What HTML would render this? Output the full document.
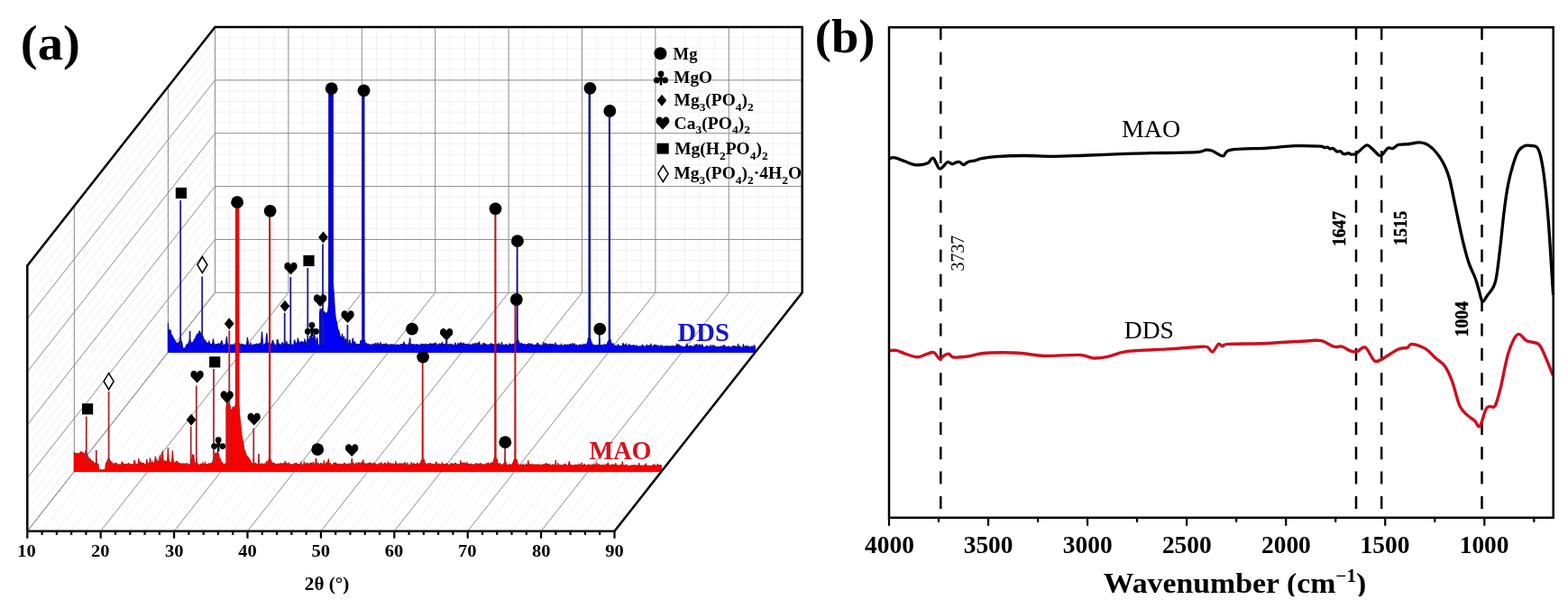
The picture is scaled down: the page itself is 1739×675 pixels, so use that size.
<!DOCTYPE html>
<html><head><meta charset="utf-8"><title>XRD and FTIR</title>
<style>
html,body{margin:0;padding:0;background:#fff;}
svg{display:block;}
.b{font-family:"Liberation Serif","Times New Roman",serif;font-weight:bold;}
.r{font-family:"Liberation Serif","Times New Roman",serif;font-weight:normal;}
</style></head>
<body>
<svg width="1739" height="675" viewBox="0 0 1739 675">
<rect width="1739" height="675" fill="#fff"/>
<g shape-rendering="auto"><line x1="30.3" y1="576.93" x2="238.5" y2="312.53" stroke="#f0f0f0" stroke-width="1" /><line x1="30.3" y1="565.16" x2="238.5" y2="300.76" stroke="#f0f0f0" stroke-width="1" /><line x1="30.3" y1="553.38" x2="238.5" y2="288.98" stroke="#f0f0f0" stroke-width="1" /><line x1="30.3" y1="541.61" x2="238.5" y2="277.21" stroke="#f0f0f0" stroke-width="1" /><line x1="30.3" y1="518.07" x2="238.5" y2="253.67" stroke="#f0f0f0" stroke-width="1" /><line x1="30.3" y1="506.3" x2="238.5" y2="241.9" stroke="#f0f0f0" stroke-width="1" /><line x1="30.3" y1="494.52" x2="238.5" y2="230.12" stroke="#f0f0f0" stroke-width="1" /><line x1="30.3" y1="482.75" x2="238.5" y2="218.35" stroke="#f0f0f0" stroke-width="1" /><line x1="30.3" y1="459.21" x2="238.5" y2="194.81" stroke="#f0f0f0" stroke-width="1" /><line x1="30.3" y1="447.44" x2="238.5" y2="183.04" stroke="#f0f0f0" stroke-width="1" /><line x1="30.3" y1="435.66" x2="238.5" y2="171.26" stroke="#f0f0f0" stroke-width="1" /><line x1="30.3" y1="423.89" x2="238.5" y2="159.49" stroke="#f0f0f0" stroke-width="1" /><line x1="30.3" y1="400.35" x2="238.5" y2="135.95" stroke="#f0f0f0" stroke-width="1" /><line x1="30.3" y1="388.58" x2="238.5" y2="124.18" stroke="#f0f0f0" stroke-width="1" /><line x1="30.3" y1="376.8" x2="238.5" y2="112.4" stroke="#f0f0f0" stroke-width="1" /><line x1="30.3" y1="365.03" x2="238.5" y2="100.63" stroke="#f0f0f0" stroke-width="1" /><line x1="30.3" y1="341.49" x2="238.5" y2="77.09" stroke="#f0f0f0" stroke-width="1" /><line x1="30.3" y1="329.72" x2="238.5" y2="65.32" stroke="#f0f0f0" stroke-width="1" /><line x1="30.3" y1="317.94" x2="238.5" y2="53.54" stroke="#f0f0f0" stroke-width="1" /><line x1="30.3" y1="306.17" x2="238.5" y2="41.77" stroke="#f0f0f0" stroke-width="1" /><line x1="238.5" y1="312.53" x2="889.7" y2="312.53" stroke="#f0f0f0" stroke-width="1" /><line x1="238.5" y1="300.76" x2="889.7" y2="300.76" stroke="#f0f0f0" stroke-width="1" /><line x1="238.5" y1="288.98" x2="889.7" y2="288.98" stroke="#f0f0f0" stroke-width="1" /><line x1="238.5" y1="277.21" x2="889.7" y2="277.21" stroke="#f0f0f0" stroke-width="1" /><line x1="238.5" y1="253.67" x2="889.7" y2="253.67" stroke="#f0f0f0" stroke-width="1" /><line x1="238.5" y1="241.9" x2="889.7" y2="241.9" stroke="#f0f0f0" stroke-width="1" /><line x1="238.5" y1="230.12" x2="889.7" y2="230.12" stroke="#f0f0f0" stroke-width="1" /><line x1="238.5" y1="218.35" x2="889.7" y2="218.35" stroke="#f0f0f0" stroke-width="1" /><line x1="238.5" y1="194.81" x2="889.7" y2="194.81" stroke="#f0f0f0" stroke-width="1" /><line x1="238.5" y1="183.04" x2="889.7" y2="183.04" stroke="#f0f0f0" stroke-width="1" /><line x1="238.5" y1="171.26" x2="889.7" y2="171.26" stroke="#f0f0f0" stroke-width="1" /><line x1="238.5" y1="159.49" x2="889.7" y2="159.49" stroke="#f0f0f0" stroke-width="1" /><line x1="238.5" y1="135.95" x2="889.7" y2="135.95" stroke="#f0f0f0" stroke-width="1" /><line x1="238.5" y1="124.18" x2="889.7" y2="124.18" stroke="#f0f0f0" stroke-width="1" /><line x1="238.5" y1="112.4" x2="889.7" y2="112.4" stroke="#f0f0f0" stroke-width="1" /><line x1="238.5" y1="100.63" x2="889.7" y2="100.63" stroke="#f0f0f0" stroke-width="1" /><line x1="238.5" y1="77.09" x2="889.7" y2="77.09" stroke="#f0f0f0" stroke-width="1" /><line x1="238.5" y1="65.32" x2="889.7" y2="65.32" stroke="#f0f0f0" stroke-width="1" /><line x1="238.5" y1="53.54" x2="889.7" y2="53.54" stroke="#f0f0f0" stroke-width="1" /><line x1="238.5" y1="41.77" x2="889.7" y2="41.77" stroke="#f0f0f0" stroke-width="1" /><line x1="254.78" y1="324.3" x2="254.78" y2="30" stroke="#f0f0f0" stroke-width="1" /><line x1="46.58" y1="588.7" x2="254.78" y2="324.3" stroke="#f0f0f0" stroke-width="1" /><line x1="271.06" y1="324.3" x2="271.06" y2="30" stroke="#f0f0f0" stroke-width="1" /><line x1="62.86" y1="588.7" x2="271.06" y2="324.3" stroke="#f0f0f0" stroke-width="1" /><line x1="287.34" y1="324.3" x2="287.34" y2="30" stroke="#f0f0f0" stroke-width="1" /><line x1="79.14" y1="588.7" x2="287.34" y2="324.3" stroke="#f0f0f0" stroke-width="1" /><line x1="303.62" y1="324.3" x2="303.62" y2="30" stroke="#f0f0f0" stroke-width="1" /><line x1="95.42" y1="588.7" x2="303.62" y2="324.3" stroke="#f0f0f0" stroke-width="1" /><line x1="336.18" y1="324.3" x2="336.18" y2="30" stroke="#f0f0f0" stroke-width="1" /><line x1="127.98" y1="588.7" x2="336.18" y2="324.3" stroke="#f0f0f0" stroke-width="1" /><line x1="352.46" y1="324.3" x2="352.46" y2="30" stroke="#f0f0f0" stroke-width="1" /><line x1="144.26" y1="588.7" x2="352.46" y2="324.3" stroke="#f0f0f0" stroke-width="1" /><line x1="368.74" y1="324.3" x2="368.74" y2="30" stroke="#f0f0f0" stroke-width="1" /><line x1="160.54" y1="588.7" x2="368.74" y2="324.3" stroke="#f0f0f0" stroke-width="1" /><line x1="385.02" y1="324.3" x2="385.02" y2="30" stroke="#f0f0f0" stroke-width="1" /><line x1="176.82" y1="588.7" x2="385.02" y2="324.3" stroke="#f0f0f0" stroke-width="1" /><line x1="417.58" y1="324.3" x2="417.58" y2="30" stroke="#f0f0f0" stroke-width="1" /><line x1="209.38" y1="588.7" x2="417.58" y2="324.3" stroke="#f0f0f0" stroke-width="1" /><line x1="433.86" y1="324.3" x2="433.86" y2="30" stroke="#f0f0f0" stroke-width="1" /><line x1="225.66" y1="588.7" x2="433.86" y2="324.3" stroke="#f0f0f0" stroke-width="1" /><line x1="450.14" y1="324.3" x2="450.14" y2="30" stroke="#f0f0f0" stroke-width="1" /><line x1="241.94" y1="588.7" x2="450.14" y2="324.3" stroke="#f0f0f0" stroke-width="1" /><line x1="466.42" y1="324.3" x2="466.42" y2="30" stroke="#f0f0f0" stroke-width="1" /><line x1="258.22" y1="588.7" x2="466.42" y2="324.3" stroke="#f0f0f0" stroke-width="1" /><line x1="498.98" y1="324.3" x2="498.98" y2="30" stroke="#f0f0f0" stroke-width="1" /><line x1="290.78" y1="588.7" x2="498.98" y2="324.3" stroke="#f0f0f0" stroke-width="1" /><line x1="515.26" y1="324.3" x2="515.26" y2="30" stroke="#f0f0f0" stroke-width="1" /><line x1="307.06" y1="588.7" x2="515.26" y2="324.3" stroke="#f0f0f0" stroke-width="1" /><line x1="531.54" y1="324.3" x2="531.54" y2="30" stroke="#f0f0f0" stroke-width="1" /><line x1="323.34" y1="588.7" x2="531.54" y2="324.3" stroke="#f0f0f0" stroke-width="1" /><line x1="547.82" y1="324.3" x2="547.82" y2="30" stroke="#f0f0f0" stroke-width="1" /><line x1="339.62" y1="588.7" x2="547.82" y2="324.3" stroke="#f0f0f0" stroke-width="1" /><line x1="580.38" y1="324.3" x2="580.38" y2="30" stroke="#f0f0f0" stroke-width="1" /><line x1="372.18" y1="588.7" x2="580.38" y2="324.3" stroke="#f0f0f0" stroke-width="1" /><line x1="596.66" y1="324.3" x2="596.66" y2="30" stroke="#f0f0f0" stroke-width="1" /><line x1="388.46" y1="588.7" x2="596.66" y2="324.3" stroke="#f0f0f0" stroke-width="1" /><line x1="612.94" y1="324.3" x2="612.94" y2="30" stroke="#f0f0f0" stroke-width="1" /><line x1="404.74" y1="588.7" x2="612.94" y2="324.3" stroke="#f0f0f0" stroke-width="1" /><line x1="629.22" y1="324.3" x2="629.22" y2="30" stroke="#f0f0f0" stroke-width="1" /><line x1="421.02" y1="588.7" x2="629.22" y2="324.3" stroke="#f0f0f0" stroke-width="1" /><line x1="661.78" y1="324.3" x2="661.78" y2="30" stroke="#f0f0f0" stroke-width="1" /><line x1="453.58" y1="588.7" x2="661.78" y2="324.3" stroke="#f0f0f0" stroke-width="1" /><line x1="678.06" y1="324.3" x2="678.06" y2="30" stroke="#f0f0f0" stroke-width="1" /><line x1="469.86" y1="588.7" x2="678.06" y2="324.3" stroke="#f0f0f0" stroke-width="1" /><line x1="694.34" y1="324.3" x2="694.34" y2="30" stroke="#f0f0f0" stroke-width="1" /><line x1="486.14" y1="588.7" x2="694.34" y2="324.3" stroke="#f0f0f0" stroke-width="1" /><line x1="710.62" y1="324.3" x2="710.62" y2="30" stroke="#f0f0f0" stroke-width="1" /><line x1="502.42" y1="588.7" x2="710.62" y2="324.3" stroke="#f0f0f0" stroke-width="1" /><line x1="743.18" y1="324.3" x2="743.18" y2="30" stroke="#f0f0f0" stroke-width="1" /><line x1="534.98" y1="588.7" x2="743.18" y2="324.3" stroke="#f0f0f0" stroke-width="1" /><line x1="759.46" y1="324.3" x2="759.46" y2="30" stroke="#f0f0f0" stroke-width="1" /><line x1="551.26" y1="588.7" x2="759.46" y2="324.3" stroke="#f0f0f0" stroke-width="1" /><line x1="775.74" y1="324.3" x2="775.74" y2="30" stroke="#f0f0f0" stroke-width="1" /><line x1="567.54" y1="588.7" x2="775.74" y2="324.3" stroke="#f0f0f0" stroke-width="1" /><line x1="792.02" y1="324.3" x2="792.02" y2="30" stroke="#f0f0f0" stroke-width="1" /><line x1="583.82" y1="588.7" x2="792.02" y2="324.3" stroke="#f0f0f0" stroke-width="1" /><line x1="824.58" y1="324.3" x2="824.58" y2="30" stroke="#f0f0f0" stroke-width="1" /><line x1="616.38" y1="588.7" x2="824.58" y2="324.3" stroke="#f0f0f0" stroke-width="1" /><line x1="840.86" y1="324.3" x2="840.86" y2="30" stroke="#f0f0f0" stroke-width="1" /><line x1="632.66" y1="588.7" x2="840.86" y2="324.3" stroke="#f0f0f0" stroke-width="1" /><line x1="857.14" y1="324.3" x2="857.14" y2="30" stroke="#f0f0f0" stroke-width="1" /><line x1="648.94" y1="588.7" x2="857.14" y2="324.3" stroke="#f0f0f0" stroke-width="1" /><line x1="873.42" y1="324.3" x2="873.42" y2="30" stroke="#f0f0f0" stroke-width="1" /><line x1="665.22" y1="588.7" x2="873.42" y2="324.3" stroke="#f0f0f0" stroke-width="1" /></g>
<g><line x1="30.3" y1="588.7" x2="238.5" y2="324.3" stroke="#8c8c8c" stroke-width="1" /><line x1="238.5" y1="324.3" x2="889.7" y2="324.3" stroke="#8c8c8c" stroke-width="1" /><line x1="30.3" y1="529.84" x2="238.5" y2="265.44" stroke="#8c8c8c" stroke-width="1" /><line x1="238.5" y1="265.44" x2="889.7" y2="265.44" stroke="#8c8c8c" stroke-width="1" /><line x1="30.3" y1="470.98" x2="238.5" y2="206.58" stroke="#8c8c8c" stroke-width="1" /><line x1="238.5" y1="206.58" x2="889.7" y2="206.58" stroke="#8c8c8c" stroke-width="1" /><line x1="30.3" y1="412.12" x2="238.5" y2="147.72" stroke="#8c8c8c" stroke-width="1" /><line x1="238.5" y1="147.72" x2="889.7" y2="147.72" stroke="#8c8c8c" stroke-width="1" /><line x1="30.3" y1="353.26" x2="238.5" y2="88.86" stroke="#8c8c8c" stroke-width="1" /><line x1="238.5" y1="88.86" x2="889.7" y2="88.86" stroke="#8c8c8c" stroke-width="1" /><line x1="238.5" y1="324.3" x2="238.5" y2="30" stroke="#8c8c8c" stroke-width="1" /><line x1="30.3" y1="588.7" x2="238.5" y2="324.3" stroke="#8c8c8c" stroke-width="1" /><line x1="319.9" y1="324.3" x2="319.9" y2="30" stroke="#8c8c8c" stroke-width="1" /><line x1="111.7" y1="588.7" x2="319.9" y2="324.3" stroke="#8c8c8c" stroke-width="1" /><line x1="401.3" y1="324.3" x2="401.3" y2="30" stroke="#8c8c8c" stroke-width="1" /><line x1="193.1" y1="588.7" x2="401.3" y2="324.3" stroke="#8c8c8c" stroke-width="1" /><line x1="482.7" y1="324.3" x2="482.7" y2="30" stroke="#8c8c8c" stroke-width="1" /><line x1="274.5" y1="588.7" x2="482.7" y2="324.3" stroke="#8c8c8c" stroke-width="1" /><line x1="564.1" y1="324.3" x2="564.1" y2="30" stroke="#8c8c8c" stroke-width="1" /><line x1="355.9" y1="588.7" x2="564.1" y2="324.3" stroke="#8c8c8c" stroke-width="1" /><line x1="645.5" y1="324.3" x2="645.5" y2="30" stroke="#8c8c8c" stroke-width="1" /><line x1="437.3" y1="588.7" x2="645.5" y2="324.3" stroke="#8c8c8c" stroke-width="1" /><line x1="726.9" y1="324.3" x2="726.9" y2="30" stroke="#8c8c8c" stroke-width="1" /><line x1="518.7" y1="588.7" x2="726.9" y2="324.3" stroke="#8c8c8c" stroke-width="1" /><line x1="808.3" y1="324.3" x2="808.3" y2="30" stroke="#8c8c8c" stroke-width="1" /><line x1="600.1" y1="588.7" x2="808.3" y2="324.3" stroke="#8c8c8c" stroke-width="1" /><line x1="82.35" y1="522.6" x2="82.35" y2="228.3" stroke="#8c8c8c" stroke-width="1" /><line x1="186.45" y1="390.4" x2="186.45" y2="96.1" stroke="#8c8c8c" stroke-width="1" /></g>
<path d="M186.45,390.4 L186.45,358.47 L186.95,367.34 L187.45,366.38 L187.95,368.33 L188.45,365.86 L188.95,365.7 L189.45,368.77 L189.95,370.84 L190.45,373.25 L190.95,371.94 L191.45,372.6 L191.95,376.59 L192.45,374.67 L192.95,377.02 L193.45,376.61 L193.95,377.2 L194.45,379.09 L194.95,379.77 L195.45,380.36 L195.95,380.82 L196.45,380.84 L196.95,380.31 L197.45,381.93 L197.95,381.32 L198.45,378.82 L198.95,378.84 L199.45,377.82 L199.95,375.92 L200.45,375.79 L200.95,378.26 L201.45,378.85 L201.95,380.86 L202.45,385.41 L202.95,385.95 L203.45,385.89 L203.95,386.12 L204.45,386.07 L204.95,385.75 L205.45,386.3 L205.95,385.9 L206.45,382.78 L206.95,382.89 L207.45,381.84 L207.95,381.53 L208.45,381.98 L208.95,381.21 L209.45,379.03 L209.95,379.68 L210.45,375.39 L210.95,378.25 L211.45,378.3 L211.95,379.91 L212.45,380.76 L212.95,381.05 L213.45,380.06 L213.95,379.07 L214.45,379.17 L214.95,377.99 L215.45,376.1 L215.95,376.94 L216.45,376.35 L216.95,374.76 L217.45,372.32 L217.95,372.98 L218.45,370.55 L218.95,370.37 L219.45,370.01 L219.95,370.79 L220.45,370.43 L220.95,367.17 L221.45,367.05 L221.95,368.59 L222.45,369.66 L222.95,370.04 L223.45,370.86 L223.95,370.86 L224.45,372.15 L224.95,372.89 L225.45,374.4 L225.95,376.62 L226.45,376.54 L226.95,376.93 L227.45,376.94 L227.95,378.9 L228.45,378.9 L228.95,379.28 L229.45,381.3 L229.95,380.35 L230.45,382.04 L230.95,380.73 L231.45,380.38 L231.95,377.88 L232.45,382.32 L232.95,382.23 L233.45,381.21 L233.95,382.64 L234.45,381.85 L234.95,381.46 L235.45,381.91 L235.95,379.92 L236.45,375.95 L236.95,378.85 L237.45,382.14 L237.95,383.05 L238.45,382.93 L238.95,381.66 L239.45,382.62 L239.95,381.75 L240.45,382.97 L240.95,381.47 L241.45,381.6 L241.95,382.56 L242.45,380.67 L242.95,383.12 L243.45,382.65 L243.95,381.46 L244.45,381.6 L244.95,379.79 L245.45,379.89 L245.95,377.55 L246.45,379.51 L246.95,381.68 L247.45,382.85 L247.95,382.78 L248.45,382.97 L248.95,381.89 L249.45,383.17 L249.95,381.95 L250.45,380.98 L250.95,376.89 L251.45,373.38 L251.95,379.74 L252.45,382.1 L252.95,382.49 L253.45,382.5 L253.95,382.55 L254.45,381.61 L254.95,382.23 L255.45,381.98 L255.95,383.07 L256.45,382.36 L256.95,382.32 L257.45,382.1 L257.95,381.84 L258.45,382.54 L258.95,383.09 L259.45,382.9 L259.95,382.79 L260.45,380.89 L260.95,383.11 L261.45,382.93 L261.95,381.9 L262.45,382.51 L262.95,382.43 L263.45,382.33 L263.95,380.79 L264.45,382.29 L264.95,381 L265.45,380.64 L265.95,382.22 L266.45,382.74 L266.95,382.65 L267.45,381.2 L267.95,382.55 L268.45,382.96 L268.95,382.99 L269.45,381.4 L269.95,383 L270.45,382.3 L270.95,383.05 L271.45,382.64 L271.95,382.46 L272.45,382.22 L272.95,382.81 L273.45,382.27 L273.95,379.11 L274.45,374.31 L274.95,377.91 L275.45,381.7 L275.95,382.69 L276.45,383.18 L276.95,382.5 L277.45,381.61 L277.95,380.14 L278.45,382.28 L278.95,382.32 L279.45,382.96 L279.95,382.52 L280.45,382.85 L280.95,382.51 L281.45,381.92 L281.95,382.19 L282.45,381.63 L282.95,383.15 L283.45,381.8 L283.95,383.19 L284.45,381.33 L284.95,381.05 L285.45,381.37 L285.95,382.63 L286.45,382.55 L286.95,381.46 L287.45,382.84 L287.95,380.38 L288.45,382.64 L288.95,382.85 L289.45,381.08 L289.95,375.95 L290.45,367.99 L290.95,374.01 L291.45,380.84 L291.95,381.99 L292.45,382.25 L292.95,382.59 L293.45,381.89 L293.95,380.93 L294.45,381.02 L294.95,379.8 L295.45,372.68 L295.95,369.69 L296.45,377.93 L296.95,382.54 L297.45,383.08 L297.95,380.42 L298.45,382.97 L298.95,381.96 L299.45,382.36 L299.95,381.43 L300.45,381.38 L300.95,382.05 L301.45,381.82 L301.95,378.41 L302.45,377.31 L302.95,378.31 L303.45,382.25 L303.95,380.87 L304.45,383.02 L304.95,382.67 L305.45,382.69 L305.95,382.84 L306.45,382.44 L306.95,381 L307.45,376.33 L307.95,376.41 L308.45,380.52 L308.95,382.51 L309.45,382.01 L309.95,381.13 L310.45,382.7 L310.95,382.36 L311.45,382.07 L311.95,382.34 L312.45,381.94 L312.95,379.6 L313.45,382.31 L313.95,380.77 L314.45,382.23 L314.95,382.45 L315.45,382.46 L315.95,381.68 L316.45,382.75 L316.95,382.51 L317.45,381.33 L317.95,378.7 L318.45,382.56 L318.95,383.13 L319.45,381.71 L319.95,381.67 L320.45,382.68 L320.95,381.68 L321.45,382.34 L321.95,382.51 L322.45,380.31 L322.95,382.11 L323.45,382.58 L323.95,382.11 L324.45,382.6 L324.95,382.72 L325.45,381.97 L325.95,381.46 L326.45,377.03 L326.95,377.15 L327.45,380.01 L327.95,381.14 L328.45,380.84 L328.95,381.2 L329.45,379.4 L329.95,378.34 L330.45,374.97 L330.95,377.26 L331.45,379.79 L331.95,380.57 L332.45,379.96 L332.95,380.81 L333.45,378.8 L333.95,379.23 L334.45,380.27 L334.95,378.52 L335.45,380.14 L335.95,379.98 L336.45,380.41 L336.95,379.09 L337.45,380.36 L337.95,375.97 L338.45,378.91 L338.95,380.29 L339.45,380.36 L339.95,380.35 L340.45,377.92 L340.95,375.85 L341.45,378.43 L341.95,378.36 L342.45,376.32 L342.95,376.36 L343.45,375.88 L343.95,372.54 L344.45,373.78 L344.95,373.49 L345.45,373.67 L345.95,373.8 L346.45,375.13 L346.95,375.7 L347.45,374.66 L347.95,372.84 L348.45,364.72 L348.95,371.88 L349.45,376.13 L349.95,381.33 L350.45,380.34 L350.95,377.71 L351.45,374.13 L351.95,375.44 L352.45,380.94 L352.95,381.95 L353.45,382.88 L353.95,383.1 L354.45,382.76 L354.95,381.62 L355.45,382.54 L355.95,382.77 L356.45,381.66 L356.95,382.96 L357.45,383.1 L357.95,382.25 L358.45,379.73 L358.95,382.44 L359.45,379.85 L359.95,381.98 L360.45,382.52 L360.95,382.94 L361.45,381.94 L361.95,382.67 L362.45,382.75 L362.95,380.23 L363.45,382.92 L363.95,382.56 L364.45,381.27 L364.95,380.99 L365.45,381.49 L365.95,381.81 L366.45,377.38 L366.95,381.14 L367.45,383.17 L367.95,382.04 L368.45,383.05 L368.95,382.94 L369.45,381.4 L369.95,382.66 L370.45,382.67 L370.95,382.78 L371.45,382.65 L371.95,383.06 L372.45,382.82 L372.95,383.18 L373.45,382.29 L373.95,382.6 L374.45,382.54 L374.95,379.26 L375.45,381.11 L375.95,383.08 L376.45,382.01 L376.95,382.73 L377.45,382.52 L377.95,382.27 L378.45,382.24 L378.95,377.02 L379.45,370.13 L379.95,373.96 L380.45,378.81 L380.95,374.96 L381.45,373.22 L381.95,378 L382.45,380.04 L382.95,379.04 L383.45,375.33 L383.95,378.12 L384.45,381.97 L384.95,379.64 L385.45,382.77 L385.95,382.68 L386.45,382.68 L386.95,381.22 L387.45,377.82 L387.95,376.9 L388.45,379.97 L388.95,382.91 L389.45,381.14 L389.95,382.14 L390.45,381.3 L390.95,376.22 L391.45,375.11 L391.95,380.16 L392.45,381.23 L392.95,380.38 L393.45,378.7 L393.95,380.03 L394.45,382.39 L394.95,382.04 L395.45,383.07 L395.95,381.42 L396.45,381.71 L396.95,381.49 L397.45,382.98 L397.95,381.7 L398.45,381.54 L398.95,382.73 L399.45,382.44 L399.95,377.53 L400.45,380.25 L400.95,377.6 L401.45,376.78 L401.95,375.6 L402.45,375.76 L402.95,376.17 L403.45,376.71 L403.95,376.22 L404.45,377.41 L404.95,379.81 L405.45,380.51 L405.95,381.79 L406.45,380.79 L406.95,382.51 L407.45,381.96 L407.95,381.09 L408.45,382.66 L408.95,383.02 L409.45,381.94 L409.95,381.58 L410.45,382.65 L410.95,382.31 L411.45,382.66 L411.95,382.76 L412.45,382.83 L412.95,381.9 L413.45,381.17 L413.95,382.88 L414.45,382.97 L414.95,382.51 L415.45,380.93 L415.95,383.18 L416.45,381.93 L416.95,380.33 L417.45,382.34 L417.95,383.03 L418.45,382.97 L418.95,380.18 L419.45,382.34 L419.95,381.24 L420.45,382.33 L420.95,382.38 L421.45,382.33 L421.95,379.48 L422.45,382.08 L422.95,381.57 L423.45,382.93 L423.95,383.12 L424.45,382.25 L424.95,381.35 L425.45,383.09 L425.95,381.93 L426.45,381.71 L426.95,382.01 L427.45,382.7 L427.95,380.7 L428.45,383.07 L428.95,382.03 L429.45,382.82 L429.95,381.79 L430.45,381.94 L430.95,382.31 L431.45,382.77 L431.95,382.49 L432.45,382.81 L432.95,381.77 L433.45,382.94 L433.95,382.73 L434.45,381.7 L434.95,381.81 L435.45,382.32 L435.95,382.81 L436.45,382.91 L436.95,381.96 L437.45,381.98 L437.95,382.21 L438.45,382.78 L438.95,382.84 L439.45,382.31 L439.95,382.31 L440.45,382.26 L440.95,382.99 L441.45,381.95 L441.95,382.86 L442.45,383.06 L442.95,382.63 L443.45,383.16 L443.95,382.25 L444.45,381.7 L444.95,381.49 L445.45,382.26 L445.95,383 L446.45,381.55 L446.95,382.48 L447.45,381.67 L447.95,378.84 L448.45,382.2 L448.95,381.33 L449.45,382.26 L449.95,382.64 L450.45,382.08 L450.95,381.85 L451.45,382.98 L451.95,383.17 L452.45,382.61 L452.95,382.06 L453.45,380.47 L453.95,382.14 L454.45,382.6 L454.95,382.79 L455.45,382.51 L455.95,381.91 L456.45,381.57 L456.95,382.53 L457.45,383.02 L457.95,381.58 L458.45,382.56 L458.95,381.98 L459.45,381.88 L459.95,381.91 L460.45,383.15 L460.95,382.95 L461.45,381.9 L461.95,382.75 L462.45,382.79 L462.95,381.61 L463.45,382.76 L463.95,382.47 L464.45,383.19 L464.95,382.48 L465.45,382.62 L465.95,383.01 L466.45,382.53 L466.95,381.28 L467.45,382.17 L467.95,383 L468.45,382.09 L468.95,381.41 L469.45,381.75 L469.95,382.1 L470.45,382.99 L470.95,381.97 L471.45,382.92 L471.95,381.16 L472.45,383.02 L472.95,381.67 L473.45,382.85 L473.95,381.86 L474.45,382.89 L474.95,382.02 L475.45,382.28 L475.95,381.82 L476.45,381.06 L476.95,382.51 L477.45,380.77 L477.95,382.26 L478.45,381.34 L478.95,382.25 L479.45,382.02 L479.95,381.04 L480.45,382.9 L480.95,381.21 L481.45,382.62 L481.95,381.05 L482.45,380.04 L482.95,382.72 L483.45,380.45 L483.95,382.49 L484.45,382.2 L484.95,383.07 L485.45,382.81 L485.95,382.46 L486.45,381.23 L486.95,381.72 L487.45,381.08 L487.95,382.79 L488.45,381.49 L488.95,381.26 L489.45,380.86 L489.95,382.06 L490.45,379.46 L490.95,383.13 L491.45,383 L491.95,381.4 L492.45,382.93 L492.95,382.81 L493.45,381.38 L493.95,381.65 L494.45,382.13 L494.95,381.52 L495.45,381.31 L495.95,381.85 L496.45,382.09 L496.95,383.02 L497.45,381.91 L497.95,382.98 L498.45,381.67 L498.95,381.24 L499.45,381.98 L499.95,383.05 L500.45,382.97 L500.95,381.75 L501.45,381.5 L501.95,383.16 L502.45,382.95 L502.95,382.56 L503.45,382.63 L503.95,382.64 L504.45,382.91 L504.95,379.9 L505.45,382.64 L505.95,383.08 L506.45,382.41 L506.95,383.17 L507.45,382.76 L507.95,380.48 L508.45,382.61 L508.95,382.83 L509.45,381.44 L509.95,380.71 L510.45,381.11 L510.95,379.71 L511.45,383.06 L511.95,380.27 L512.45,382.73 L512.95,381.75 L513.45,382.93 L513.95,380.24 L514.45,380.42 L514.95,381.98 L515.45,382.98 L515.95,381.64 L516.45,381.86 L516.95,381.35 L517.45,381.84 L517.95,381.46 L518.45,382.28 L518.95,381.87 L519.45,382.19 L519.95,381.89 L520.45,382.17 L520.95,381.77 L521.45,382.23 L521.95,383.09 L522.45,382.68 L522.95,382.13 L523.45,382.91 L523.95,380.93 L524.45,382.87 L524.95,382.72 L525.45,382.39 L525.95,381.7 L526.45,380.55 L526.95,382.83 L527.45,380.78 L527.95,381.54 L528.45,381.2 L528.95,382.97 L529.45,380.25 L529.95,380.4 L530.45,382.37 L530.95,382.83 L531.45,378.85 L531.95,380.49 L532.45,383.03 L532.95,382.78 L533.45,383.13 L533.95,382.19 L534.45,382.14 L534.95,382.76 L535.45,383.07 L535.95,380.3 L536.45,382.69 L536.95,382.98 L537.45,380.74 L537.95,383.19 L538.45,381.88 L538.95,382.39 L539.45,381.23 L539.95,382.6 L540.45,382.81 L540.95,383.05 L541.45,382.28 L541.95,382.54 L542.45,382.49 L542.95,381.8 L543.45,382.33 L543.95,382.51 L544.45,380.75 L544.95,382.54 L545.45,381.41 L545.95,381.62 L546.45,383.02 L546.95,381.5 L547.45,382.66 L547.95,382.39 L548.45,382.04 L548.95,383.11 L549.45,381.75 L549.95,381.53 L550.45,381.93 L550.95,381.48 L551.45,382.99 L551.95,382.52 L552.45,382.82 L552.95,380.95 L553.45,382.02 L553.95,381.05 L554.45,383.1 L554.95,383.03 L555.45,382.99 L555.95,382.58 L556.45,379.46 L556.95,382.17 L557.45,382.07 L557.95,382.76 L558.45,382.48 L558.95,382.33 L559.45,382.31 L559.95,382.74 L560.45,382.39 L560.95,382.07 L561.45,381.78 L561.95,382.04 L562.45,383.05 L562.95,382.92 L563.45,382.81 L563.95,382.89 L564.45,382.94 L564.95,380.99 L565.45,381.27 L565.95,382.25 L566.45,382.52 L566.95,381.59 L567.45,382.93 L567.95,383.15 L568.45,382.49 L568.95,381.3 L569.45,382.91 L569.95,381.57 L570.45,381.67 L570.95,380.6 L571.45,380.17 L571.95,379.49 L572.45,378.52 L572.95,378.13 L573.45,376.78 L573.95,377 L574.45,377.22 L574.95,377.27 L575.45,379.35 L575.95,380.54 L576.45,380.79 L576.95,382.51 L577.45,382.28 L577.95,380.78 L578.45,380.22 L578.95,382.21 L579.45,381.72 L579.95,381.74 L580.45,381.83 L580.95,381.86 L581.45,381.47 L581.95,382.05 L582.45,381.9 L582.95,382.88 L583.45,382.29 L583.95,383.23 L584.45,381.83 L584.95,381.61 L585.45,382.82 L585.95,381.63 L586.45,380.69 L586.95,381.12 L587.45,382.16 L587.95,383.15 L588.45,382.52 L588.95,380.8 L589.45,382.99 L589.95,381.72 L590.45,381.74 L590.95,382.49 L591.45,382.92 L591.95,382.66 L592.45,382.51 L592.95,383.04 L593.45,382.23 L593.95,382.56 L594.45,383.23 L594.95,381.96 L595.45,382.28 L595.95,380.07 L596.45,382.82 L596.95,380.82 L597.45,382.84 L597.95,383.17 L598.45,382.35 L598.95,382.59 L599.45,382.87 L599.95,382.81 L600.45,383.34 L600.95,383.2 L601.45,382.67 L601.95,382.1 L602.45,383.29 L602.95,379.64 L603.45,382.69 L603.95,382.87 L604.45,382.87 L604.95,380.38 L605.45,383.17 L605.95,382.24 L606.45,381.14 L606.95,383.43 L607.45,383.18 L607.95,382.25 L608.45,381.49 L608.95,383.14 L609.45,383.09 L609.95,381.14 L610.45,382.09 L610.95,382.2 L611.45,383.24 L611.95,381.48 L612.45,383.38 L612.95,381.48 L613.45,382.36 L613.95,383.54 L614.45,382.47 L614.95,382.29 L615.45,381.83 L615.95,379.8 L616.45,382.91 L616.95,381.84 L617.45,382.49 L617.95,383.32 L618.45,383.51 L618.95,383.56 L619.45,382.25 L619.95,382.85 L620.45,383 L620.95,383.54 L621.45,383.34 L621.95,383.34 L622.45,381.08 L622.95,382.88 L623.45,383.35 L623.95,383.32 L624.45,382.93 L624.95,383.12 L625.45,383.16 L625.95,382.49 L626.45,381.9 L626.95,383.67 L627.45,382.24 L627.95,383.41 L628.45,382.31 L628.95,382.58 L629.45,383.66 L629.95,382.04 L630.45,383.02 L630.95,383.37 L631.45,382.04 L631.95,382.63 L632.45,381.26 L632.95,383.26 L633.45,383.44 L633.95,382.27 L634.45,381.19 L634.95,382.2 L635.45,380.79 L635.95,381.89 L636.45,382.77 L636.95,383.34 L637.45,380.87 L637.95,383.69 L638.45,383.26 L638.95,383.63 L639.45,382.2 L639.95,383.24 L640.45,383.72 L640.95,383.42 L641.45,383.39 L641.95,382.59 L642.45,382.26 L642.95,382.66 L643.45,382.78 L643.95,381.97 L644.45,383.41 L644.95,382.91 L645.45,383.81 L645.95,383.12 L646.45,381.29 L646.95,382.58 L647.45,383.8 L647.95,383.13 L648.45,382.14 L648.95,381.3 L649.45,382.69 L649.95,383.23 L650.45,382.26 L650.95,381.19 L651.45,379.91 L651.95,378.41 L652.45,374.56 L652.95,375.58 L653.45,375.65 L653.95,374.96 L654.45,374.49 L654.95,376.48 L655.45,378.65 L655.95,380.08 L656.45,380 L656.95,381.84 L657.45,382.3 L657.95,382.25 L658.45,383 L658.95,382.47 L659.45,383.56 L659.95,382.8 L660.45,383.13 L660.95,383.97 L661.45,383.55 L661.95,382.3 L662.45,382.48 L662.95,382.96 L663.45,382.97 L663.95,382.95 L664.45,383.42 L664.95,383.9 L665.45,382.34 L665.95,383.48 L666.45,383.2 L666.95,382.56 L667.45,383.81 L667.95,383.38 L668.45,382.3 L668.95,384.11 L669.45,383 L669.95,382.97 L670.45,381.84 L670.95,381.52 L671.45,383.88 L671.95,383.61 L672.45,382.26 L672.95,382.93 L673.45,381.58 L673.95,379.21 L674.45,379.38 L674.95,377.76 L675.45,376.32 L675.95,376.46 L676.45,375.59 L676.95,376.16 L677.45,378.39 L677.95,380.29 L678.45,381.99 L678.95,382.79 L679.45,381.35 L679.95,380.81 L680.45,381.91 L680.95,383.82 L681.45,383.52 L681.95,383.81 L682.45,384.05 L682.95,382.84 L683.45,383.21 L683.95,384.09 L684.45,384.18 L684.95,384.19 L685.45,381.55 L685.95,383.98 L686.45,384.14 L686.95,383.1 L687.45,383.87 L687.95,383.67 L688.45,383.63 L688.95,384.13 L689.45,383.84 L689.95,384.26 L690.45,382.07 L690.95,380.41 L691.45,381.57 L691.95,383.35 L692.45,384.28 L692.95,382.27 L693.45,382.83 L693.95,382.74 L694.45,381.02 L694.95,383.99 L695.45,383.34 L695.95,384.21 L696.45,383.48 L696.95,384.24 L697.45,381.53 L697.95,383.17 L698.45,382.78 L698.95,384.09 L699.45,382.71 L699.95,384.36 L700.45,383.17 L700.95,383.8 L701.45,383.02 L701.95,382.77 L702.45,382.57 L702.95,382.62 L703.45,383.93 L703.95,383.08 L704.45,383.07 L704.95,384.21 L705.45,383.78 L705.95,383.87 L706.45,382.77 L706.95,384.26 L707.45,384.48 L707.95,384.4 L708.45,384.48 L708.95,384.27 L709.45,383.81 L709.95,384.37 L710.45,384.26 L710.95,383.71 L711.45,384.07 L711.95,384.4 L712.45,382.01 L712.95,383.97 L713.45,384.24 L713.95,383.45 L714.45,384.38 L714.95,384.46 L715.45,384.33 L715.95,384.57 L716.45,384.05 L716.95,382.44 L717.45,382.39 L717.95,382.71 L718.45,384.2 L718.95,383.83 L719.45,384.16 L719.95,382.75 L720.45,383.71 L720.95,383.12 L721.45,384.28 L721.95,381.16 L722.45,383.43 L722.95,384.38 L723.45,384.23 L723.95,384.01 L724.45,384.33 L724.95,382.93 L725.45,383.83 L725.95,382.03 L726.45,383.82 L726.95,384.04 L727.45,382.35 L727.95,383.47 L728.45,384.43 L728.95,383.01 L729.45,384.46 L729.95,384.51 L730.45,383.09 L730.95,384.56 L731.45,384.53 L731.95,384.47 L732.45,384.23 L732.95,382.73 L733.45,383.92 L733.95,383.64 L734.45,384.04 L734.95,383.55 L735.45,384.44 L735.95,384.49 L736.45,384.38 L736.95,384.57 L737.45,383.65 L737.95,384.45 L738.45,383.63 L738.95,384.3 L739.45,384.03 L739.95,384.61 L740.45,383.43 L740.95,384.62 L741.45,384.01 L741.95,384.81 L742.45,383.75 L742.95,384.12 L743.45,384.71 L743.95,384.29 L744.45,383.87 L744.95,384.7 L745.45,383.3 L745.95,383.17 L746.45,384.53 L746.95,384.41 L747.45,384.29 L747.95,383.66 L748.45,384.53 L748.95,384.61 L749.45,383.68 L749.95,384.85 L750.45,381.19 L750.95,384.64 L751.45,384.52 L751.95,382.14 L752.45,384.1 L752.95,381.97 L753.45,383.25 L753.95,383.35 L754.45,383.84 L754.95,383.32 L755.45,383.96 L755.95,384.27 L756.45,384.36 L756.95,384.29 L757.45,384.5 L757.95,384.45 L758.45,384.86 L758.95,384.7 L759.45,384.74 L759.95,384.51 L760.45,384.38 L760.95,382.73 L761.45,384.7 L761.95,380.96 L762.45,384.47 L762.95,383.82 L763.45,385.03 L763.95,384.3 L764.45,384.99 L764.95,383.19 L765.45,383.75 L765.95,384.02 L766.45,383.27 L766.95,384.53 L767.45,384.9 L767.95,384.08 L768.45,384.86 L768.95,384.24 L769.45,383.69 L769.95,385.03 L770.45,384.68 L770.95,381.99 L771.45,384.91 L771.95,384.19 L772.45,383.54 L772.95,381.51 L773.45,383.12 L773.95,384.52 L774.45,382.84 L774.95,384.53 L775.45,384.63 L775.95,381.54 L776.45,384.11 L776.95,383.51 L777.45,383.12 L777.95,384.79 L778.45,382 L778.95,382.01 L779.45,384.75 L779.95,384.31 L780.45,384.78 L780.95,385.1 L781.45,384.82 L781.95,384.48 L782.45,384.91 L782.95,384.79 L783.45,383.14 L783.95,384.39 L784.45,383.52 L784.95,385.08 L785.45,384.52 L785.95,384.84 L786.45,384.03 L786.95,383.91 L787.45,385.02 L787.95,384 L788.45,382.36 L788.95,384.81 L789.45,384.52 L789.95,384.66 L790.45,384.04 L790.95,382.38 L791.45,385.02 L791.95,384.98 L792.45,383.54 L792.95,385.16 L793.45,383.9 L793.95,385.31 L794.45,384.95 L794.95,384.8 L795.45,384.87 L795.95,384.53 L796.45,384.34 L796.95,384.85 L797.45,384.99 L797.95,384.57 L798.45,385.03 L798.95,383.86 L799.45,384.69 L799.95,384.07 L800.45,384.35 L800.95,384.1 L801.45,384.44 L801.95,385.24 L802.45,382.74 L802.95,384.58 L803.45,382.98 L803.95,383.31 L804.45,384.78 L804.95,385.39 L805.45,384.88 L805.95,384.42 L806.45,385.46 L806.95,384.17 L807.45,384.6 L807.95,384.78 L808.45,383.9 L808.95,385.06 L809.45,385.21 L809.95,385.51 L810.45,384.91 L810.95,384.59 L811.45,384.9 L811.95,385.39 L812.45,383.92 L812.95,384.83 L813.45,383.89 L813.95,383.21 L814.45,385.51 L814.95,385.52 L815.45,383.86 L815.95,383.87 L816.45,385.19 L816.95,384.75 L817.45,384.67 L817.95,384.92 L818.45,381.31 L818.95,385.42 L819.45,385.45 L819.95,385.04 L820.45,383.08 L820.95,384.63 L821.45,385.26 L821.95,385.55 L822.45,385.16 L822.95,385.16 L823.45,384.85 L823.95,384.66 L824.45,381.64 L824.95,385.67 L825.45,385.26 L825.95,384.61 L826.45,383.87 L826.95,384.5 L827.45,384.63 L827.95,383.14 L828.45,385.57 L828.95,385.42 L829.45,385.22 L829.95,383.49 L830.45,384.58 L830.95,385.52 L831.45,384.79 L831.95,385.57 L832.45,385.69 L832.95,384.45 L833.45,384.04 L833.95,385.72 L834.45,383.82 L834.95,385.14 L835.45,385.54 L835.95,384.7 L836.45,382.63 L836.95,383.93 L837.45,384.41 L837.45,390.4 Z M354.6,390.4 L354.6,347 L355.2,342.5 L356.4,344.5 L357.4,341.5 L358.6,347 L359.8,345.5 L361,349.5 L362.2,346.5 L363.4,349 L364.5,338 L366,320 L369.2,312 L370.2,326 L371.2,342 L372.2,353 L373.6,358.5 L374.6,365 L375.6,366 L376.8,371.5 L377.6,373 L378.6,376.5 L380,378 L381.2,381.5 L383,390.4 Z M364.45,390.4 L364.71,382.4 L364.85,98.2 L369.15,98.2 L369.29,382.4 L369.55,390.4 Z M401.55,390.4 L401.84,382.4 L402,100.4 L403.8,100.4 L403.96,382.4 L404.25,390.4 Z M572.75,390.4 L573.14,382.4 L573.35,267.2 L573.85,267.2 L574.06,382.4 L574.45,390.4 Z M652.75,390.4 L653.07,382.4 L653.25,97.8 L654.35,97.8 L654.52,382.4 L654.85,390.4 Z M674.95,390.4 L675.34,382.4 L675.55,123 L676.25,123 L676.46,382.4 L676.85,390.4 Z M199.15,390.4 L199.73,388.3 L200.05,376.4 L200.35,376.4 L200.66,388.3 L201.25,390.4 Z M209.55,390.4 L210.13,388.3 L210.45,376.4 L210.75,376.4 L211.06,388.3 L211.65,390.4 Z M223.15,390.4 L223.73,388.3 L224.05,376.4 L224.35,376.4 L224.66,388.3 L225.25,390.4 Z M314.65,390.4 L315.24,388.3 L315.55,376.4 L315.85,376.4 L316.16,388.3 L316.75,390.4 Z M321.25,390.4 L321.84,388.3 L322.15,376.4 L322.45,376.4 L322.76,388.3 L323.35,390.4 Z M340.25,390.4 L340.84,388.3 L341.15,376.4 L341.45,376.4 L341.76,388.3 L342.35,390.4 Z M356.95,390.4 L357.54,388.3 L357.85,376.4 L358.15,376.4 L358.46,388.3 L359.05,390.4 Z M384.35,390.4 L384.94,388.3 L385.25,376.4 L385.55,376.4 L385.86,388.3 L386.45,390.4 Z M453.55,390.4 L454.14,388.3 L454.45,376.4 L454.75,376.4 L455.06,388.3 L455.65,390.4 Z M494.25,390.4 L494.84,388.3 L495.15,376.4 L495.45,376.4 L495.76,388.3 L496.35,390.4 Z M663.75,390.4 L664.33,388.3 L664.65,376.4 L664.95,376.4 L665.26,388.3 L665.85,390.4 Z" fill="none" stroke="#141464" stroke-width="1.3" stroke-linejoin="round"/><path d="M186.45,390.4 L186.45,358.47 L186.95,367.34 L187.45,366.38 L187.95,368.33 L188.45,365.86 L188.95,365.7 L189.45,368.77 L189.95,370.84 L190.45,373.25 L190.95,371.94 L191.45,372.6 L191.95,376.59 L192.45,374.67 L192.95,377.02 L193.45,376.61 L193.95,377.2 L194.45,379.09 L194.95,379.77 L195.45,380.36 L195.95,380.82 L196.45,380.84 L196.95,380.31 L197.45,381.93 L197.95,381.32 L198.45,378.82 L198.95,378.84 L199.45,377.82 L199.95,375.92 L200.45,375.79 L200.95,378.26 L201.45,378.85 L201.95,380.86 L202.45,385.41 L202.95,385.95 L203.45,385.89 L203.95,386.12 L204.45,386.07 L204.95,385.75 L205.45,386.3 L205.95,385.9 L206.45,382.78 L206.95,382.89 L207.45,381.84 L207.95,381.53 L208.45,381.98 L208.95,381.21 L209.45,379.03 L209.95,379.68 L210.45,375.39 L210.95,378.25 L211.45,378.3 L211.95,379.91 L212.45,380.76 L212.95,381.05 L213.45,380.06 L213.95,379.07 L214.45,379.17 L214.95,377.99 L215.45,376.1 L215.95,376.94 L216.45,376.35 L216.95,374.76 L217.45,372.32 L217.95,372.98 L218.45,370.55 L218.95,370.37 L219.45,370.01 L219.95,370.79 L220.45,370.43 L220.95,367.17 L221.45,367.05 L221.95,368.59 L222.45,369.66 L222.95,370.04 L223.45,370.86 L223.95,370.86 L224.45,372.15 L224.95,372.89 L225.45,374.4 L225.95,376.62 L226.45,376.54 L226.95,376.93 L227.45,376.94 L227.95,378.9 L228.45,378.9 L228.95,379.28 L229.45,381.3 L229.95,380.35 L230.45,382.04 L230.95,380.73 L231.45,380.38 L231.95,377.88 L232.45,382.32 L232.95,382.23 L233.45,381.21 L233.95,382.64 L234.45,381.85 L234.95,381.46 L235.45,381.91 L235.95,379.92 L236.45,375.95 L236.95,378.85 L237.45,382.14 L237.95,383.05 L238.45,382.93 L238.95,381.66 L239.45,382.62 L239.95,381.75 L240.45,382.97 L240.95,381.47 L241.45,381.6 L241.95,382.56 L242.45,380.67 L242.95,383.12 L243.45,382.65 L243.95,381.46 L244.45,381.6 L244.95,379.79 L245.45,379.89 L245.95,377.55 L246.45,379.51 L246.95,381.68 L247.45,382.85 L247.95,382.78 L248.45,382.97 L248.95,381.89 L249.45,383.17 L249.95,381.95 L250.45,380.98 L250.95,376.89 L251.45,373.38 L251.95,379.74 L252.45,382.1 L252.95,382.49 L253.45,382.5 L253.95,382.55 L254.45,381.61 L254.95,382.23 L255.45,381.98 L255.95,383.07 L256.45,382.36 L256.95,382.32 L257.45,382.1 L257.95,381.84 L258.45,382.54 L258.95,383.09 L259.45,382.9 L259.95,382.79 L260.45,380.89 L260.95,383.11 L261.45,382.93 L261.95,381.9 L262.45,382.51 L262.95,382.43 L263.45,382.33 L263.95,380.79 L264.45,382.29 L264.95,381 L265.45,380.64 L265.95,382.22 L266.45,382.74 L266.95,382.65 L267.45,381.2 L267.95,382.55 L268.45,382.96 L268.95,382.99 L269.45,381.4 L269.95,383 L270.45,382.3 L270.95,383.05 L271.45,382.64 L271.95,382.46 L272.45,382.22 L272.95,382.81 L273.45,382.27 L273.95,379.11 L274.45,374.31 L274.95,377.91 L275.45,381.7 L275.95,382.69 L276.45,383.18 L276.95,382.5 L277.45,381.61 L277.95,380.14 L278.45,382.28 L278.95,382.32 L279.45,382.96 L279.95,382.52 L280.45,382.85 L280.95,382.51 L281.45,381.92 L281.95,382.19 L282.45,381.63 L282.95,383.15 L283.45,381.8 L283.95,383.19 L284.45,381.33 L284.95,381.05 L285.45,381.37 L285.95,382.63 L286.45,382.55 L286.95,381.46 L287.45,382.84 L287.95,380.38 L288.45,382.64 L288.95,382.85 L289.45,381.08 L289.95,375.95 L290.45,367.99 L290.95,374.01 L291.45,380.84 L291.95,381.99 L292.45,382.25 L292.95,382.59 L293.45,381.89 L293.95,380.93 L294.45,381.02 L294.95,379.8 L295.45,372.68 L295.95,369.69 L296.45,377.93 L296.95,382.54 L297.45,383.08 L297.95,380.42 L298.45,382.97 L298.95,381.96 L299.45,382.36 L299.95,381.43 L300.45,381.38 L300.95,382.05 L301.45,381.82 L301.95,378.41 L302.45,377.31 L302.95,378.31 L303.45,382.25 L303.95,380.87 L304.45,383.02 L304.95,382.67 L305.45,382.69 L305.95,382.84 L306.45,382.44 L306.95,381 L307.45,376.33 L307.95,376.41 L308.45,380.52 L308.95,382.51 L309.45,382.01 L309.95,381.13 L310.45,382.7 L310.95,382.36 L311.45,382.07 L311.95,382.34 L312.45,381.94 L312.95,379.6 L313.45,382.31 L313.95,380.77 L314.45,382.23 L314.95,382.45 L315.45,382.46 L315.95,381.68 L316.45,382.75 L316.95,382.51 L317.45,381.33 L317.95,378.7 L318.45,382.56 L318.95,383.13 L319.45,381.71 L319.95,381.67 L320.45,382.68 L320.95,381.68 L321.45,382.34 L321.95,382.51 L322.45,380.31 L322.95,382.11 L323.45,382.58 L323.95,382.11 L324.45,382.6 L324.95,382.72 L325.45,381.97 L325.95,381.46 L326.45,377.03 L326.95,377.15 L327.45,380.01 L327.95,381.14 L328.45,380.84 L328.95,381.2 L329.45,379.4 L329.95,378.34 L330.45,374.97 L330.95,377.26 L331.45,379.79 L331.95,380.57 L332.45,379.96 L332.95,380.81 L333.45,378.8 L333.95,379.23 L334.45,380.27 L334.95,378.52 L335.45,380.14 L335.95,379.98 L336.45,380.41 L336.95,379.09 L337.45,380.36 L337.95,375.97 L338.45,378.91 L338.95,380.29 L339.45,380.36 L339.95,380.35 L340.45,377.92 L340.95,375.85 L341.45,378.43 L341.95,378.36 L342.45,376.32 L342.95,376.36 L343.45,375.88 L343.95,372.54 L344.45,373.78 L344.95,373.49 L345.45,373.67 L345.95,373.8 L346.45,375.13 L346.95,375.7 L347.45,374.66 L347.95,372.84 L348.45,364.72 L348.95,371.88 L349.45,376.13 L349.95,381.33 L350.45,380.34 L350.95,377.71 L351.45,374.13 L351.95,375.44 L352.45,380.94 L352.95,381.95 L353.45,382.88 L353.95,383.1 L354.45,382.76 L354.95,381.62 L355.45,382.54 L355.95,382.77 L356.45,381.66 L356.95,382.96 L357.45,383.1 L357.95,382.25 L358.45,379.73 L358.95,382.44 L359.45,379.85 L359.95,381.98 L360.45,382.52 L360.95,382.94 L361.45,381.94 L361.95,382.67 L362.45,382.75 L362.95,380.23 L363.45,382.92 L363.95,382.56 L364.45,381.27 L364.95,380.99 L365.45,381.49 L365.95,381.81 L366.45,377.38 L366.95,381.14 L367.45,383.17 L367.95,382.04 L368.45,383.05 L368.95,382.94 L369.45,381.4 L369.95,382.66 L370.45,382.67 L370.95,382.78 L371.45,382.65 L371.95,383.06 L372.45,382.82 L372.95,383.18 L373.45,382.29 L373.95,382.6 L374.45,382.54 L374.95,379.26 L375.45,381.11 L375.95,383.08 L376.45,382.01 L376.95,382.73 L377.45,382.52 L377.95,382.27 L378.45,382.24 L378.95,377.02 L379.45,370.13 L379.95,373.96 L380.45,378.81 L380.95,374.96 L381.45,373.22 L381.95,378 L382.45,380.04 L382.95,379.04 L383.45,375.33 L383.95,378.12 L384.45,381.97 L384.95,379.64 L385.45,382.77 L385.95,382.68 L386.45,382.68 L386.95,381.22 L387.45,377.82 L387.95,376.9 L388.45,379.97 L388.95,382.91 L389.45,381.14 L389.95,382.14 L390.45,381.3 L390.95,376.22 L391.45,375.11 L391.95,380.16 L392.45,381.23 L392.95,380.38 L393.45,378.7 L393.95,380.03 L394.45,382.39 L394.95,382.04 L395.45,383.07 L395.95,381.42 L396.45,381.71 L396.95,381.49 L397.45,382.98 L397.95,381.7 L398.45,381.54 L398.95,382.73 L399.45,382.44 L399.95,377.53 L400.45,380.25 L400.95,377.6 L401.45,376.78 L401.95,375.6 L402.45,375.76 L402.95,376.17 L403.45,376.71 L403.95,376.22 L404.45,377.41 L404.95,379.81 L405.45,380.51 L405.95,381.79 L406.45,380.79 L406.95,382.51 L407.45,381.96 L407.95,381.09 L408.45,382.66 L408.95,383.02 L409.45,381.94 L409.95,381.58 L410.45,382.65 L410.95,382.31 L411.45,382.66 L411.95,382.76 L412.45,382.83 L412.95,381.9 L413.45,381.17 L413.95,382.88 L414.45,382.97 L414.95,382.51 L415.45,380.93 L415.95,383.18 L416.45,381.93 L416.95,380.33 L417.45,382.34 L417.95,383.03 L418.45,382.97 L418.95,380.18 L419.45,382.34 L419.95,381.24 L420.45,382.33 L420.95,382.38 L421.45,382.33 L421.95,379.48 L422.45,382.08 L422.95,381.57 L423.45,382.93 L423.95,383.12 L424.45,382.25 L424.95,381.35 L425.45,383.09 L425.95,381.93 L426.45,381.71 L426.95,382.01 L427.45,382.7 L427.95,380.7 L428.45,383.07 L428.95,382.03 L429.45,382.82 L429.95,381.79 L430.45,381.94 L430.95,382.31 L431.45,382.77 L431.95,382.49 L432.45,382.81 L432.95,381.77 L433.45,382.94 L433.95,382.73 L434.45,381.7 L434.95,381.81 L435.45,382.32 L435.95,382.81 L436.45,382.91 L436.95,381.96 L437.45,381.98 L437.95,382.21 L438.45,382.78 L438.95,382.84 L439.45,382.31 L439.95,382.31 L440.45,382.26 L440.95,382.99 L441.45,381.95 L441.95,382.86 L442.45,383.06 L442.95,382.63 L443.45,383.16 L443.95,382.25 L444.45,381.7 L444.95,381.49 L445.45,382.26 L445.95,383 L446.45,381.55 L446.95,382.48 L447.45,381.67 L447.95,378.84 L448.45,382.2 L448.95,381.33 L449.45,382.26 L449.95,382.64 L450.45,382.08 L450.95,381.85 L451.45,382.98 L451.95,383.17 L452.45,382.61 L452.95,382.06 L453.45,380.47 L453.95,382.14 L454.45,382.6 L454.95,382.79 L455.45,382.51 L455.95,381.91 L456.45,381.57 L456.95,382.53 L457.45,383.02 L457.95,381.58 L458.45,382.56 L458.95,381.98 L459.45,381.88 L459.95,381.91 L460.45,383.15 L460.95,382.95 L461.45,381.9 L461.95,382.75 L462.45,382.79 L462.95,381.61 L463.45,382.76 L463.95,382.47 L464.45,383.19 L464.95,382.48 L465.45,382.62 L465.95,383.01 L466.45,382.53 L466.95,381.28 L467.45,382.17 L467.95,383 L468.45,382.09 L468.95,381.41 L469.45,381.75 L469.95,382.1 L470.45,382.99 L470.95,381.97 L471.45,382.92 L471.95,381.16 L472.45,383.02 L472.95,381.67 L473.45,382.85 L473.95,381.86 L474.45,382.89 L474.95,382.02 L475.45,382.28 L475.95,381.82 L476.45,381.06 L476.95,382.51 L477.45,380.77 L477.95,382.26 L478.45,381.34 L478.95,382.25 L479.45,382.02 L479.95,381.04 L480.45,382.9 L480.95,381.21 L481.45,382.62 L481.95,381.05 L482.45,380.04 L482.95,382.72 L483.45,380.45 L483.95,382.49 L484.45,382.2 L484.95,383.07 L485.45,382.81 L485.95,382.46 L486.45,381.23 L486.95,381.72 L487.45,381.08 L487.95,382.79 L488.45,381.49 L488.95,381.26 L489.45,380.86 L489.95,382.06 L490.45,379.46 L490.95,383.13 L491.45,383 L491.95,381.4 L492.45,382.93 L492.95,382.81 L493.45,381.38 L493.95,381.65 L494.45,382.13 L494.95,381.52 L495.45,381.31 L495.95,381.85 L496.45,382.09 L496.95,383.02 L497.45,381.91 L497.95,382.98 L498.45,381.67 L498.95,381.24 L499.45,381.98 L499.95,383.05 L500.45,382.97 L500.95,381.75 L501.45,381.5 L501.95,383.16 L502.45,382.95 L502.95,382.56 L503.45,382.63 L503.95,382.64 L504.45,382.91 L504.95,379.9 L505.45,382.64 L505.95,383.08 L506.45,382.41 L506.95,383.17 L507.45,382.76 L507.95,380.48 L508.45,382.61 L508.95,382.83 L509.45,381.44 L509.95,380.71 L510.45,381.11 L510.95,379.71 L511.45,383.06 L511.95,380.27 L512.45,382.73 L512.95,381.75 L513.45,382.93 L513.95,380.24 L514.45,380.42 L514.95,381.98 L515.45,382.98 L515.95,381.64 L516.45,381.86 L516.95,381.35 L517.45,381.84 L517.95,381.46 L518.45,382.28 L518.95,381.87 L519.45,382.19 L519.95,381.89 L520.45,382.17 L520.95,381.77 L521.45,382.23 L521.95,383.09 L522.45,382.68 L522.95,382.13 L523.45,382.91 L523.95,380.93 L524.45,382.87 L524.95,382.72 L525.45,382.39 L525.95,381.7 L526.45,380.55 L526.95,382.83 L527.45,380.78 L527.95,381.54 L528.45,381.2 L528.95,382.97 L529.45,380.25 L529.95,380.4 L530.45,382.37 L530.95,382.83 L531.45,378.85 L531.95,380.49 L532.45,383.03 L532.95,382.78 L533.45,383.13 L533.95,382.19 L534.45,382.14 L534.95,382.76 L535.45,383.07 L535.95,380.3 L536.45,382.69 L536.95,382.98 L537.45,380.74 L537.95,383.19 L538.45,381.88 L538.95,382.39 L539.45,381.23 L539.95,382.6 L540.45,382.81 L540.95,383.05 L541.45,382.28 L541.95,382.54 L542.45,382.49 L542.95,381.8 L543.45,382.33 L543.95,382.51 L544.45,380.75 L544.95,382.54 L545.45,381.41 L545.95,381.62 L546.45,383.02 L546.95,381.5 L547.45,382.66 L547.95,382.39 L548.45,382.04 L548.95,383.11 L549.45,381.75 L549.95,381.53 L550.45,381.93 L550.95,381.48 L551.45,382.99 L551.95,382.52 L552.45,382.82 L552.95,380.95 L553.45,382.02 L553.95,381.05 L554.45,383.1 L554.95,383.03 L555.45,382.99 L555.95,382.58 L556.45,379.46 L556.95,382.17 L557.45,382.07 L557.95,382.76 L558.45,382.48 L558.95,382.33 L559.45,382.31 L559.95,382.74 L560.45,382.39 L560.95,382.07 L561.45,381.78 L561.95,382.04 L562.45,383.05 L562.95,382.92 L563.45,382.81 L563.95,382.89 L564.45,382.94 L564.95,380.99 L565.45,381.27 L565.95,382.25 L566.45,382.52 L566.95,381.59 L567.45,382.93 L567.95,383.15 L568.45,382.49 L568.95,381.3 L569.45,382.91 L569.95,381.57 L570.45,381.67 L570.95,380.6 L571.45,380.17 L571.95,379.49 L572.45,378.52 L572.95,378.13 L573.45,376.78 L573.95,377 L574.45,377.22 L574.95,377.27 L575.45,379.35 L575.95,380.54 L576.45,380.79 L576.95,382.51 L577.45,382.28 L577.95,380.78 L578.45,380.22 L578.95,382.21 L579.45,381.72 L579.95,381.74 L580.45,381.83 L580.95,381.86 L581.45,381.47 L581.95,382.05 L582.45,381.9 L582.95,382.88 L583.45,382.29 L583.95,383.23 L584.45,381.83 L584.95,381.61 L585.45,382.82 L585.95,381.63 L586.45,380.69 L586.95,381.12 L587.45,382.16 L587.95,383.15 L588.45,382.52 L588.95,380.8 L589.45,382.99 L589.95,381.72 L590.45,381.74 L590.95,382.49 L591.45,382.92 L591.95,382.66 L592.45,382.51 L592.95,383.04 L593.45,382.23 L593.95,382.56 L594.45,383.23 L594.95,381.96 L595.45,382.28 L595.95,380.07 L596.45,382.82 L596.95,380.82 L597.45,382.84 L597.95,383.17 L598.45,382.35 L598.95,382.59 L599.45,382.87 L599.95,382.81 L600.45,383.34 L600.95,383.2 L601.45,382.67 L601.95,382.1 L602.45,383.29 L602.95,379.64 L603.45,382.69 L603.95,382.87 L604.45,382.87 L604.95,380.38 L605.45,383.17 L605.95,382.24 L606.45,381.14 L606.95,383.43 L607.45,383.18 L607.95,382.25 L608.45,381.49 L608.95,383.14 L609.45,383.09 L609.95,381.14 L610.45,382.09 L610.95,382.2 L611.45,383.24 L611.95,381.48 L612.45,383.38 L612.95,381.48 L613.45,382.36 L613.95,383.54 L614.45,382.47 L614.95,382.29 L615.45,381.83 L615.95,379.8 L616.45,382.91 L616.95,381.84 L617.45,382.49 L617.95,383.32 L618.45,383.51 L618.95,383.56 L619.45,382.25 L619.95,382.85 L620.45,383 L620.95,383.54 L621.45,383.34 L621.95,383.34 L622.45,381.08 L622.95,382.88 L623.45,383.35 L623.95,383.32 L624.45,382.93 L624.95,383.12 L625.45,383.16 L625.95,382.49 L626.45,381.9 L626.95,383.67 L627.45,382.24 L627.95,383.41 L628.45,382.31 L628.95,382.58 L629.45,383.66 L629.95,382.04 L630.45,383.02 L630.95,383.37 L631.45,382.04 L631.95,382.63 L632.45,381.26 L632.95,383.26 L633.45,383.44 L633.95,382.27 L634.45,381.19 L634.95,382.2 L635.45,380.79 L635.95,381.89 L636.45,382.77 L636.95,383.34 L637.45,380.87 L637.95,383.69 L638.45,383.26 L638.95,383.63 L639.45,382.2 L639.95,383.24 L640.45,383.72 L640.95,383.42 L641.45,383.39 L641.95,382.59 L642.45,382.26 L642.95,382.66 L643.45,382.78 L643.95,381.97 L644.45,383.41 L644.95,382.91 L645.45,383.81 L645.95,383.12 L646.45,381.29 L646.95,382.58 L647.45,383.8 L647.95,383.13 L648.45,382.14 L648.95,381.3 L649.45,382.69 L649.95,383.23 L650.45,382.26 L650.95,381.19 L651.45,379.91 L651.95,378.41 L652.45,374.56 L652.95,375.58 L653.45,375.65 L653.95,374.96 L654.45,374.49 L654.95,376.48 L655.45,378.65 L655.95,380.08 L656.45,380 L656.95,381.84 L657.45,382.3 L657.95,382.25 L658.45,383 L658.95,382.47 L659.45,383.56 L659.95,382.8 L660.45,383.13 L660.95,383.97 L661.45,383.55 L661.95,382.3 L662.45,382.48 L662.95,382.96 L663.45,382.97 L663.95,382.95 L664.45,383.42 L664.95,383.9 L665.45,382.34 L665.95,383.48 L666.45,383.2 L666.95,382.56 L667.45,383.81 L667.95,383.38 L668.45,382.3 L668.95,384.11 L669.45,383 L669.95,382.97 L670.45,381.84 L670.95,381.52 L671.45,383.88 L671.95,383.61 L672.45,382.26 L672.95,382.93 L673.45,381.58 L673.95,379.21 L674.45,379.38 L674.95,377.76 L675.45,376.32 L675.95,376.46 L676.45,375.59 L676.95,376.16 L677.45,378.39 L677.95,380.29 L678.45,381.99 L678.95,382.79 L679.45,381.35 L679.95,380.81 L680.45,381.91 L680.95,383.82 L681.45,383.52 L681.95,383.81 L682.45,384.05 L682.95,382.84 L683.45,383.21 L683.95,384.09 L684.45,384.18 L684.95,384.19 L685.45,381.55 L685.95,383.98 L686.45,384.14 L686.95,383.1 L687.45,383.87 L687.95,383.67 L688.45,383.63 L688.95,384.13 L689.45,383.84 L689.95,384.26 L690.45,382.07 L690.95,380.41 L691.45,381.57 L691.95,383.35 L692.45,384.28 L692.95,382.27 L693.45,382.83 L693.95,382.74 L694.45,381.02 L694.95,383.99 L695.45,383.34 L695.95,384.21 L696.45,383.48 L696.95,384.24 L697.45,381.53 L697.95,383.17 L698.45,382.78 L698.95,384.09 L699.45,382.71 L699.95,384.36 L700.45,383.17 L700.95,383.8 L701.45,383.02 L701.95,382.77 L702.45,382.57 L702.95,382.62 L703.45,383.93 L703.95,383.08 L704.45,383.07 L704.95,384.21 L705.45,383.78 L705.95,383.87 L706.45,382.77 L706.95,384.26 L707.45,384.48 L707.95,384.4 L708.45,384.48 L708.95,384.27 L709.45,383.81 L709.95,384.37 L710.45,384.26 L710.95,383.71 L711.45,384.07 L711.95,384.4 L712.45,382.01 L712.95,383.97 L713.45,384.24 L713.95,383.45 L714.45,384.38 L714.95,384.46 L715.45,384.33 L715.95,384.57 L716.45,384.05 L716.95,382.44 L717.45,382.39 L717.95,382.71 L718.45,384.2 L718.95,383.83 L719.45,384.16 L719.95,382.75 L720.45,383.71 L720.95,383.12 L721.45,384.28 L721.95,381.16 L722.45,383.43 L722.95,384.38 L723.45,384.23 L723.95,384.01 L724.45,384.33 L724.95,382.93 L725.45,383.83 L725.95,382.03 L726.45,383.82 L726.95,384.04 L727.45,382.35 L727.95,383.47 L728.45,384.43 L728.95,383.01 L729.45,384.46 L729.95,384.51 L730.45,383.09 L730.95,384.56 L731.45,384.53 L731.95,384.47 L732.45,384.23 L732.95,382.73 L733.45,383.92 L733.95,383.64 L734.45,384.04 L734.95,383.55 L735.45,384.44 L735.95,384.49 L736.45,384.38 L736.95,384.57 L737.45,383.65 L737.95,384.45 L738.45,383.63 L738.95,384.3 L739.45,384.03 L739.95,384.61 L740.45,383.43 L740.95,384.62 L741.45,384.01 L741.95,384.81 L742.45,383.75 L742.95,384.12 L743.45,384.71 L743.95,384.29 L744.45,383.87 L744.95,384.7 L745.45,383.3 L745.95,383.17 L746.45,384.53 L746.95,384.41 L747.45,384.29 L747.95,383.66 L748.45,384.53 L748.95,384.61 L749.45,383.68 L749.95,384.85 L750.45,381.19 L750.95,384.64 L751.45,384.52 L751.95,382.14 L752.45,384.1 L752.95,381.97 L753.45,383.25 L753.95,383.35 L754.45,383.84 L754.95,383.32 L755.45,383.96 L755.95,384.27 L756.45,384.36 L756.95,384.29 L757.45,384.5 L757.95,384.45 L758.45,384.86 L758.95,384.7 L759.45,384.74 L759.95,384.51 L760.45,384.38 L760.95,382.73 L761.45,384.7 L761.95,380.96 L762.45,384.47 L762.95,383.82 L763.45,385.03 L763.95,384.3 L764.45,384.99 L764.95,383.19 L765.45,383.75 L765.95,384.02 L766.45,383.27 L766.95,384.53 L767.45,384.9 L767.95,384.08 L768.45,384.86 L768.95,384.24 L769.45,383.69 L769.95,385.03 L770.45,384.68 L770.95,381.99 L771.45,384.91 L771.95,384.19 L772.45,383.54 L772.95,381.51 L773.45,383.12 L773.95,384.52 L774.45,382.84 L774.95,384.53 L775.45,384.63 L775.95,381.54 L776.45,384.11 L776.95,383.51 L777.45,383.12 L777.95,384.79 L778.45,382 L778.95,382.01 L779.45,384.75 L779.95,384.31 L780.45,384.78 L780.95,385.1 L781.45,384.82 L781.95,384.48 L782.45,384.91 L782.95,384.79 L783.45,383.14 L783.95,384.39 L784.45,383.52 L784.95,385.08 L785.45,384.52 L785.95,384.84 L786.45,384.03 L786.95,383.91 L787.45,385.02 L787.95,384 L788.45,382.36 L788.95,384.81 L789.45,384.52 L789.95,384.66 L790.45,384.04 L790.95,382.38 L791.45,385.02 L791.95,384.98 L792.45,383.54 L792.95,385.16 L793.45,383.9 L793.95,385.31 L794.45,384.95 L794.95,384.8 L795.45,384.87 L795.95,384.53 L796.45,384.34 L796.95,384.85 L797.45,384.99 L797.95,384.57 L798.45,385.03 L798.95,383.86 L799.45,384.69 L799.95,384.07 L800.45,384.35 L800.95,384.1 L801.45,384.44 L801.95,385.24 L802.45,382.74 L802.95,384.58 L803.45,382.98 L803.95,383.31 L804.45,384.78 L804.95,385.39 L805.45,384.88 L805.95,384.42 L806.45,385.46 L806.95,384.17 L807.45,384.6 L807.95,384.78 L808.45,383.9 L808.95,385.06 L809.45,385.21 L809.95,385.51 L810.45,384.91 L810.95,384.59 L811.45,384.9 L811.95,385.39 L812.45,383.92 L812.95,384.83 L813.45,383.89 L813.95,383.21 L814.45,385.51 L814.95,385.52 L815.45,383.86 L815.95,383.87 L816.45,385.19 L816.95,384.75 L817.45,384.67 L817.95,384.92 L818.45,381.31 L818.95,385.42 L819.45,385.45 L819.95,385.04 L820.45,383.08 L820.95,384.63 L821.45,385.26 L821.95,385.55 L822.45,385.16 L822.95,385.16 L823.45,384.85 L823.95,384.66 L824.45,381.64 L824.95,385.67 L825.45,385.26 L825.95,384.61 L826.45,383.87 L826.95,384.5 L827.45,384.63 L827.95,383.14 L828.45,385.57 L828.95,385.42 L829.45,385.22 L829.95,383.49 L830.45,384.58 L830.95,385.52 L831.45,384.79 L831.95,385.57 L832.45,385.69 L832.95,384.45 L833.45,384.04 L833.95,385.72 L834.45,383.82 L834.95,385.14 L835.45,385.54 L835.95,384.7 L836.45,382.63 L836.95,383.93 L837.45,384.41 L837.45,390.4 Z M354.6,390.4 L354.6,347 L355.2,342.5 L356.4,344.5 L357.4,341.5 L358.6,347 L359.8,345.5 L361,349.5 L362.2,346.5 L363.4,349 L364.5,338 L366,320 L369.2,312 L370.2,326 L371.2,342 L372.2,353 L373.6,358.5 L374.6,365 L375.6,366 L376.8,371.5 L377.6,373 L378.6,376.5 L380,378 L381.2,381.5 L383,390.4 Z M364.45,390.4 L364.71,382.4 L364.85,98.2 L369.15,98.2 L369.29,382.4 L369.55,390.4 Z M401.55,390.4 L401.84,382.4 L402,100.4 L403.8,100.4 L403.96,382.4 L404.25,390.4 Z M572.75,390.4 L573.14,382.4 L573.35,267.2 L573.85,267.2 L574.06,382.4 L574.45,390.4 Z M652.75,390.4 L653.07,382.4 L653.25,97.8 L654.35,97.8 L654.52,382.4 L654.85,390.4 Z M674.95,390.4 L675.34,382.4 L675.55,123 L676.25,123 L676.46,382.4 L676.85,390.4 Z M199.15,390.4 L199.73,388.3 L200.05,376.4 L200.35,376.4 L200.66,388.3 L201.25,390.4 Z M209.55,390.4 L210.13,388.3 L210.45,376.4 L210.75,376.4 L211.06,388.3 L211.65,390.4 Z M223.15,390.4 L223.73,388.3 L224.05,376.4 L224.35,376.4 L224.66,388.3 L225.25,390.4 Z M314.65,390.4 L315.24,388.3 L315.55,376.4 L315.85,376.4 L316.16,388.3 L316.75,390.4 Z M321.25,390.4 L321.84,388.3 L322.15,376.4 L322.45,376.4 L322.76,388.3 L323.35,390.4 Z M340.25,390.4 L340.84,388.3 L341.15,376.4 L341.45,376.4 L341.76,388.3 L342.35,390.4 Z M356.95,390.4 L357.54,388.3 L357.85,376.4 L358.15,376.4 L358.46,388.3 L359.05,390.4 Z M384.35,390.4 L384.94,388.3 L385.25,376.4 L385.55,376.4 L385.86,388.3 L386.45,390.4 Z M453.55,390.4 L454.14,388.3 L454.45,376.4 L454.75,376.4 L455.06,388.3 L455.65,390.4 Z M494.25,390.4 L494.84,388.3 L495.15,376.4 L495.45,376.4 L495.76,388.3 L496.35,390.4 Z M663.75,390.4 L664.33,388.3 L664.65,376.4 L664.95,376.4 L665.26,388.3 L665.85,390.4 Z" fill="#0000f4"/>
<g stroke="#1c1c8c" stroke-width="1.8"><line x1="200.2" y1="382.4" x2="200.2" y2="222.1"/><line x1="210.6" y1="382.4" x2="210.6" y2="367"/><line x1="224.2" y1="382.4" x2="224.2" y2="306.5"/><line x1="315.7" y1="382.4" x2="315.7" y2="346.7"/><line x1="322.3" y1="382.4" x2="322.3" y2="307"/><line x1="341.3" y1="382.4" x2="341.3" y2="297"/><line x1="358" y1="382.4" x2="358" y2="270.5"/><line x1="385.4" y1="382.4" x2="385.4" y2="360"/><line x1="454.6" y1="382.4" x2="454.6" y2="374.5"/><line x1="495.3" y1="382.4" x2="495.3" y2="377.5"/><line x1="664.8" y1="382.4" x2="664.8" y2="364.7"/></g>
<path d="M82.35,522.6 L82.35,501.73 L82.85,502.03 L83.35,504.27 L83.85,502.91 L84.35,502.74 L84.85,502.68 L85.35,504.27 L85.85,503.81 L86.35,502.42 L86.85,502.58 L87.35,503.58 L87.85,503.34 L88.35,503.22 L88.85,501.55 L89.35,503.76 L89.85,500.43 L90.35,503.84 L90.85,502.36 L91.35,501.99 L91.85,501.61 L92.35,503.46 L92.85,502.12 L93.35,505.41 L93.85,504.03 L94.35,504.36 L94.85,500.33 L95.35,499.05 L95.85,501.62 L96.35,502.95 L96.85,505.25 L97.35,504.86 L97.85,507.88 L98.35,507.66 L98.85,508.72 L99.35,508.18 L99.85,510.49 L100.35,509.08 L100.85,510.38 L101.35,511.24 L101.85,511.15 L102.35,511.89 L102.85,512.53 L103.35,511.46 L103.85,514.06 L104.35,513.65 L104.85,515.43 L105.35,515.55 L105.85,513.21 L106.35,512.44 L106.85,515.29 L107.35,514.45 L107.85,514.18 L108.35,514.71 L108.85,514.28 L109.35,521.12 L109.85,521 L110.35,520.85 L110.85,521.06 L111.35,520.62 L111.85,521.05 L112.35,521 L112.85,521 L113.35,521.05 L113.85,521.16 L114.35,520.83 L114.85,521.02 L115.35,520.95 L115.85,520.87 L116.35,520.39 L116.85,520.14 L117.35,514.09 L117.85,513.22 L118.35,512.56 L118.85,511.31 L119.35,510.51 L119.85,509.01 L120.35,509.43 L120.85,508.22 L121.35,509.09 L121.85,511.29 L122.35,510.85 L122.85,511.83 L123.35,512.07 L123.85,512.88 L124.35,513.26 L124.85,514.42 L125.35,513.92 L125.85,515.05 L126.35,515.52 L126.85,515.03 L127.35,513.11 L127.85,513.99 L128.35,514.98 L128.85,514.09 L129.35,513.4 L129.85,515.35 L130.35,515.18 L130.85,515.28 L131.35,515.04 L131.85,515.03 L132.35,514.73 L132.85,514.98 L133.35,515.41 L133.85,515.14 L134.35,515.48 L134.85,513.32 L135.35,511.87 L135.85,513.71 L136.35,513.52 L136.85,515.18 L137.35,514.47 L137.85,514.51 L138.35,515.58 L138.85,514.86 L139.35,514.84 L139.85,514.41 L140.35,515.54 L140.85,514.32 L141.35,515.21 L141.85,515.09 L142.35,513.35 L142.85,514.14 L143.35,515.29 L143.85,515.23 L144.35,514.33 L144.85,514.36 L145.35,515.57 L145.85,515.07 L146.35,514.95 L146.85,515.52 L147.35,514.73 L147.85,515.22 L148.35,513.96 L148.85,510.54 L149.35,510.5 L149.85,512.81 L150.35,514.82 L150.85,515.41 L151.35,514.71 L151.85,514.46 L152.35,515.16 L152.85,514.59 L153.35,513.8 L153.85,508.55 L154.35,512.13 L154.85,513.47 L155.35,513.14 L155.85,512.11 L156.35,514.24 L156.85,513.8 L157.35,515.43 L157.85,513.23 L158.35,514.96 L158.85,514.84 L159.35,513.47 L159.85,514.37 L160.35,514.98 L160.85,514.93 L161.35,514.87 L161.85,514.01 L162.35,512.85 L162.85,509.26 L163.35,512.91 L163.85,513.04 L164.35,513.75 L164.85,514.78 L165.35,514.01 L165.85,513.13 L166.35,507.95 L166.85,509 L167.35,513.31 L167.85,513.7 L168.35,513.69 L168.85,512.92 L169.35,511.76 L169.85,513.9 L170.35,514.34 L170.85,513.57 L171.35,513.7 L171.85,510.5 L172.35,506.15 L172.85,509.26 L173.35,511.02 L173.85,513.39 L174.35,512.61 L174.85,510.25 L175.35,513.07 L175.85,512.81 L176.35,514.12 L176.85,509.31 L177.35,507.14 L177.85,504.63 L178.35,510.86 L178.85,513.43 L179.35,511.89 L179.85,502.32 L180.35,500.06 L180.85,508.68 L181.35,511.95 L181.85,511.58 L182.35,513.13 L182.85,510.52 L183.35,512.79 L183.85,513.35 L184.35,511.37 L184.85,511.57 L185.35,512.28 L185.85,508.18 L186.35,496.67 L186.85,506.19 L187.35,511.12 L187.85,511.01 L188.35,512.46 L188.85,513.54 L189.35,512.67 L189.85,513.27 L190.35,513.25 L190.85,509.18 L191.35,499.89 L191.85,508.33 L192.35,510.9 L192.85,513.43 L193.35,512.96 L193.85,512.85 L194.35,513.99 L194.85,512.72 L195.35,511.59 L195.85,511.39 L196.35,513.15 L196.85,511.59 L197.35,513.41 L197.85,513.22 L198.35,514.13 L198.85,513.2 L199.35,514.34 L199.85,514.15 L200.35,513.99 L200.85,514.6 L201.35,514.87 L201.85,514.26 L202.35,515.2 L202.85,513.66 L203.35,514.82 L203.85,514.39 L204.35,515.13 L204.85,513.81 L205.35,514.41 L205.85,514.62 L206.35,515.28 L206.85,514.25 L207.35,513.41 L207.85,515.26 L208.35,515.08 L208.85,515 L209.35,515.07 L209.85,515.13 L210.35,515.15 L210.85,514.37 L211.35,514.39 L211.85,513.92 L212.35,514.51 L212.85,512.88 L213.35,503.98 L213.85,507.06 L214.35,509.9 L214.85,504.41 L215.35,511.1 L215.85,514.49 L216.35,513.45 L216.85,514.15 L217.35,515.57 L217.85,514.74 L218.35,513.99 L218.85,513.51 L219.35,514.71 L219.85,515.44 L220.35,515.17 L220.85,515.46 L221.35,515.39 L221.85,515.26 L222.35,514.25 L222.85,514.08 L223.35,515.55 L223.85,515.51 L224.35,515.49 L224.85,512.77 L225.35,514.97 L225.85,515.2 L226.35,515.25 L226.85,515.52 L227.35,512.09 L227.85,514.59 L228.35,514.76 L228.85,514.51 L229.35,514.56 L229.85,515.4 L230.35,514.69 L230.85,514.86 L231.35,513.74 L231.85,514.21 L232.35,514.16 L232.85,513.88 L233.35,515.1 L233.85,514.08 L234.35,513.6 L234.85,513.63 L235.35,512.5 L235.85,512.08 L236.35,510.17 L236.85,507.17 L237.35,508.88 L237.85,506.42 L238.35,505.98 L238.85,502.22 L239.35,503.42 L239.85,502.79 L240.35,502.58 L240.85,502.44 L241.35,500.34 L241.85,502.02 L242.35,503.03 L242.85,505.85 L243.35,508.3 L243.85,508.51 L244.35,508.42 L244.85,511.37 L245.35,512.83 L245.85,512.23 L246.35,512.46 L246.85,513.73 L247.35,514.17 L247.85,514.34 L248.35,515.32 L248.85,515.07 L249.35,514.46 L249.85,513.97 L250.35,515.37 L250.85,513.36 L251.35,515.55 L251.85,514.16 L252.35,514.23 L252.85,514.02 L253.35,514.71 L253.85,513.94 L254.35,515.28 L254.85,515.14 L255.35,513.74 L255.85,515.04 L256.35,514.1 L256.85,513.6 L257.35,515.35 L257.85,515.55 L258.35,514.77 L258.85,514.46 L259.35,514.95 L259.85,515.13 L260.35,512.84 L260.85,515.54 L261.35,515.08 L261.85,515.14 L262.35,511.89 L262.85,513.22 L263.35,514.8 L263.85,514.35 L264.35,515.08 L264.85,512.04 L265.35,515.55 L265.85,512.61 L266.35,512.36 L266.85,515.2 L267.35,515.2 L267.85,513.93 L268.35,514.73 L268.85,515.33 L269.35,515.58 L269.85,513.89 L270.35,514.54 L270.85,514.88 L271.35,515 L271.85,515.36 L272.35,515.27 L272.85,514.53 L273.35,515.01 L273.85,511.96 L274.35,514.57 L274.85,515.15 L275.35,513.6 L275.85,513.97 L276.35,514.18 L276.85,514.61 L277.35,514.72 L277.85,514.64 L278.35,514.38 L278.85,515.15 L279.35,513.69 L279.85,514.77 L280.35,515.54 L280.85,514.77 L281.35,515.22 L281.85,514.31 L282.35,513.67 L282.85,515.15 L283.35,513.75 L283.85,513.45 L284.35,514.44 L284.85,514.98 L285.35,514.96 L285.85,515.17 L286.35,515.33 L286.85,514.73 L287.35,514.5 L287.85,514.48 L288.35,515.34 L288.85,514.41 L289.35,515.37 L289.85,514.27 L290.35,513.87 L290.85,515.19 L291.35,515.03 L291.85,514.1 L292.35,514.73 L292.85,514.76 L293.35,514.02 L293.85,515.14 L294.35,514.94 L294.85,515.23 L295.35,511.7 L295.85,513.44 L296.35,512.38 L296.85,512.93 L297.35,510.84 L297.85,511.02 L298.35,508.42 L298.85,507.36 L299.35,508.83 L299.85,508.82 L300.35,509.87 L300.85,511.36 L301.35,513.15 L301.85,512.85 L302.35,514.36 L302.85,515.04 L303.35,513.07 L303.85,513.43 L304.35,514.02 L304.85,514.17 L305.35,514.82 L305.85,514.6 L306.35,514.51 L306.85,515.53 L307.35,514.66 L307.85,514.33 L308.35,515.34 L308.85,514.22 L309.35,515.19 L309.85,513.98 L310.35,514.83 L310.85,515.53 L311.35,513.42 L311.85,514.39 L312.35,514.88 L312.85,514.32 L313.35,515.09 L313.85,513.48 L314.35,513.39 L314.85,515.49 L315.35,515.17 L315.85,513.51 L316.35,511.44 L316.85,512.81 L317.35,515.3 L317.85,513.73 L318.35,514.54 L318.85,513.82 L319.35,514.61 L319.85,514.99 L320.35,512.85 L320.85,514.95 L321.35,515.19 L321.85,514.52 L322.35,515.13 L322.85,514.74 L323.35,515.34 L323.85,515.06 L324.35,515.21 L324.85,514.82 L325.35,515.05 L325.85,515.17 L326.35,514.01 L326.85,513.83 L327.35,513.68 L327.85,514.86 L328.35,514.47 L328.85,513.19 L329.35,514.69 L329.85,514.6 L330.35,514.54 L330.85,514.7 L331.35,514.79 L331.85,514.33 L332.35,514.52 L332.85,515.47 L333.35,515.25 L333.85,512.07 L334.35,515.52 L334.85,515.32 L335.35,515.39 L335.85,515.28 L336.35,515.05 L336.85,514.39 L337.35,511.86 L337.85,515.3 L338.35,514.46 L338.85,515.35 L339.35,513.81 L339.85,513.85 L340.35,513.62 L340.85,513.62 L341.35,513.23 L341.85,515.3 L342.35,515.53 L342.85,514.66 L343.35,514.47 L343.85,513.17 L344.35,515.4 L344.85,515.29 L345.35,513.23 L345.85,514.35 L346.35,514.71 L346.85,515.57 L347.35,512.16 L347.85,514.25 L348.35,513.96 L348.85,514.32 L349.35,513.99 L349.85,514.2 L350.35,513.13 L350.85,514.23 L351.35,515.25 L351.85,515.58 L352.35,513.23 L352.85,513.37 L353.35,514.72 L353.85,515.19 L354.35,515.24 L354.85,515.1 L355.35,513.53 L355.85,515.15 L356.35,514.36 L356.85,513.63 L357.35,515.54 L357.85,515.35 L358.35,514.28 L358.85,514.13 L359.35,510.71 L359.85,514.86 L360.35,515.25 L360.85,515.49 L361.35,514.91 L361.85,512.6 L362.35,515.16 L362.85,514.87 L363.35,512.87 L363.85,511.75 L364.35,508.8 L364.85,514.06 L365.35,515 L365.85,515.55 L366.35,513.36 L366.85,514.84 L367.35,515.51 L367.85,515.23 L368.35,515.3 L368.85,515.56 L369.35,515.45 L369.85,513.74 L370.35,513.86 L370.85,513.36 L371.35,514.85 L371.85,514.23 L372.35,512.76 L372.85,514.87 L373.35,514.41 L373.85,514.69 L374.35,515.05 L374.85,514.29 L375.35,515.58 L375.85,515.5 L376.35,514.65 L376.85,514.4 L377.35,514.55 L377.85,514.51 L378.35,515.47 L378.85,515.46 L379.35,515.33 L379.85,514.68 L380.35,514.13 L380.85,515.3 L381.35,514.2 L381.85,515.25 L382.35,513.18 L382.85,514.7 L383.35,515.36 L383.85,515.01 L384.35,514.85 L384.85,514.25 L385.35,514.94 L385.85,515.53 L386.35,514.62 L386.85,514.55 L387.35,513.79 L387.85,513.75 L388.35,514.61 L388.85,515.39 L389.35,515.32 L389.85,512.66 L390.35,514.17 L390.85,515.21 L391.35,515.39 L391.85,513 L392.35,514.67 L392.85,514.7 L393.35,515.39 L393.85,515.48 L394.35,514.45 L394.85,513.16 L395.35,514.42 L395.85,514.07 L396.35,515.32 L396.85,515.05 L397.35,512.61 L397.85,513.87 L398.35,513.15 L398.85,514.74 L399.35,514.07 L399.85,513.64 L400.35,513.06 L400.85,514.76 L401.35,514.86 L401.85,511.87 L402.35,515.46 L402.85,509.76 L403.35,514.87 L403.85,513.2 L404.35,514.81 L404.85,514.7 L405.35,514.13 L405.85,514.79 L406.35,515.2 L406.85,513.69 L407.35,515.06 L407.85,514.26 L408.35,515.53 L408.85,513.49 L409.35,514.95 L409.85,515.53 L410.35,512.75 L410.85,514.72 L411.35,514.49 L411.85,514.02 L412.35,515.38 L412.85,513.54 L413.35,514.69 L413.85,514.68 L414.35,514.78 L414.85,513.13 L415.35,514.65 L415.85,513.67 L416.35,515.52 L416.85,514.57 L417.35,514.91 L417.85,515.47 L418.35,515.47 L418.85,515.18 L419.35,514.68 L419.85,514.84 L420.35,513.75 L420.85,514.92 L421.35,513.96 L421.85,514.17 L422.35,513.84 L422.85,512.33 L423.35,515.15 L423.85,515.4 L424.35,515.27 L424.85,514.54 L425.35,515.23 L425.85,514.17 L426.35,513.51 L426.85,513.17 L427.35,514.7 L427.85,513.52 L428.35,515.06 L428.85,514.8 L429.35,514.63 L429.85,515.39 L430.35,511.83 L430.85,515.5 L431.35,513.52 L431.85,514.06 L432.35,514.09 L432.85,514.53 L433.35,513.44 L433.85,514.98 L434.35,515.05 L434.85,515.07 L435.35,514.12 L435.85,513.95 L436.35,514.49 L436.85,514.34 L437.35,515.4 L437.85,515.11 L438.35,515.57 L438.85,511.33 L439.35,514.97 L439.85,514.18 L440.35,514.26 L440.85,515.44 L441.35,514.03 L441.85,514.85 L442.35,515.25 L442.85,515.3 L443.35,513.52 L443.85,514.62 L444.35,514.43 L444.85,514.44 L445.35,513.94 L445.85,515.35 L446.35,514.54 L446.85,513.89 L447.35,514.46 L447.85,515.21 L448.35,513.66 L448.85,515.12 L449.35,512.51 L449.85,515.3 L450.35,515.09 L450.85,515.3 L451.35,514.28 L451.85,513.13 L452.35,515.22 L452.85,515.2 L453.35,515.39 L453.85,515.47 L454.35,515.2 L454.85,515.46 L455.35,515.49 L455.85,514.3 L456.35,512.55 L456.85,515.28 L457.35,514.53 L457.85,514.9 L458.35,515.13 L458.85,513.39 L459.35,514.91 L459.85,515.4 L460.35,514.8 L460.85,515.22 L461.35,514.48 L461.85,514.88 L462.35,514.59 L462.85,513.18 L463.35,515.26 L463.85,514.51 L464.35,515.06 L464.85,515.38 L465.35,513.97 L465.85,513.93 L466.35,513.1 L466.85,513.09 L467.35,510.31 L467.85,510.16 L468.35,510.09 L468.85,509.38 L469.35,509.89 L469.85,510.26 L470.35,509.45 L470.85,512.67 L471.35,512.99 L471.85,514.56 L472.35,514.06 L472.85,514.58 L473.35,514.97 L473.85,515.39 L474.35,515.54 L474.85,513.52 L475.35,515.16 L475.85,515.26 L476.35,514 L476.85,514.39 L477.35,513.34 L477.85,513.95 L478.35,515.12 L478.85,514.8 L479.35,514.76 L479.85,514.44 L480.35,515.2 L480.85,515.62 L481.35,514.44 L481.85,515.36 L482.35,515.25 L482.85,515.24 L483.35,512.92 L483.85,511.99 L484.35,514.42 L484.85,514.54 L485.35,514.4 L485.85,514.25 L486.35,514.86 L486.85,514.1 L487.35,514.75 L487.85,515.69 L488.35,515.44 L488.85,515.24 L489.35,514.41 L489.85,514.47 L490.35,512.79 L490.85,515.46 L491.35,514.79 L491.85,515.38 L492.35,514.59 L492.85,515.38 L493.35,515.19 L493.85,514.32 L494.35,514.99 L494.85,515.26 L495.35,513.78 L495.85,514.62 L496.35,514.49 L496.85,515.35 L497.35,515.53 L497.85,515.74 L498.35,515.53 L498.85,514.69 L499.35,515.38 L499.85,515.04 L500.35,513.55 L500.85,515.45 L501.35,513.84 L501.85,515.65 L502.35,515.34 L502.85,514.22 L503.35,515.65 L503.85,515.4 L504.35,513.5 L504.85,515.26 L505.35,513.52 L505.85,515.3 L506.35,515.34 L506.85,514.13 L507.35,515.31 L507.85,515.15 L508.35,515.08 L508.85,515.36 L509.35,514.56 L509.85,515.45 L510.35,513.88 L510.85,510.57 L511.35,515.07 L511.85,514.48 L512.35,515.25 L512.85,512.97 L513.35,515.36 L513.85,514.67 L514.35,513.14 L514.85,514.73 L515.35,514.01 L515.85,513.09 L516.35,515.14 L516.85,515.15 L517.35,515.49 L517.85,512.32 L518.35,515.7 L518.85,515.87 L519.35,514.17 L519.85,515.42 L520.35,514.75 L520.85,515.49 L521.35,514.67 L521.85,515.43 L522.35,514.11 L522.85,514.26 L523.35,514.53 L523.85,515.78 L524.35,515.48 L524.85,515.48 L525.35,514.62 L525.85,515.56 L526.35,515.04 L526.85,515.65 L527.35,515.18 L527.85,513.64 L528.35,514.52 L528.85,514.02 L529.35,514.53 L529.85,515.07 L530.35,515.43 L530.85,513.88 L531.35,515.81 L531.85,514.69 L532.35,515.81 L532.85,513.53 L533.35,514.13 L533.85,514.04 L534.35,515.11 L534.85,515.47 L535.35,515.9 L535.85,514.74 L536.35,515.01 L536.85,515.02 L537.35,514.99 L537.85,515.13 L538.35,515.71 L538.85,515.67 L539.35,513.65 L539.85,514.6 L540.35,515.86 L540.85,514.29 L541.35,512.87 L541.85,514.94 L542.35,513.99 L542.85,515.2 L543.35,514.42 L543.85,513.79 L544.35,514.38 L544.85,514.62 L545.35,512.52 L545.85,514.18 L546.35,513.98 L546.85,513.51 L547.35,511.61 L547.85,509.35 L548.35,507.54 L548.85,506.71 L549.35,507.47 L549.85,507.54 L550.35,507.97 L550.85,508.61 L551.35,510.35 L551.85,513 L552.35,514.2 L552.85,515.1 L553.35,514.6 L553.85,514.63 L554.35,513.38 L554.85,515.66 L555.35,515.02 L555.85,515.93 L556.35,515.34 L556.85,515.05 L557.35,515.11 L557.85,515.72 L558.35,514.35 L558.85,513.55 L559.35,513.6 L559.85,511.71 L560.35,511.84 L560.85,511.87 L561.35,514.38 L561.85,515.29 L562.35,515.6 L562.85,515.36 L563.35,516.05 L563.85,515.65 L564.35,515.79 L564.85,514.48 L565.35,514.93 L565.85,515.5 L566.35,515.28 L566.85,515.04 L567.35,515.2 L567.85,515.5 L568.35,514.6 L568.85,513.06 L569.35,512.58 L569.85,510.15 L570.35,509.69 L570.85,508.57 L571.35,507.95 L571.85,508.34 L572.35,509.73 L572.85,509.89 L573.35,509.8 L573.85,512.96 L574.35,514.66 L574.85,515.48 L575.35,515.19 L575.85,515.78 L576.35,515.61 L576.85,516.15 L577.35,514.8 L577.85,516.05 L578.35,515.31 L578.85,515.47 L579.35,515.54 L579.85,515.95 L580.35,514.13 L580.85,515.89 L581.35,515.55 L581.85,515.53 L582.35,516.26 L582.85,515.53 L583.35,516.16 L583.85,514.1 L584.35,516.01 L584.85,516.11 L585.35,516.13 L585.85,510.65 L586.35,514.49 L586.85,515.63 L587.35,515.94 L587.85,514.61 L588.35,516.25 L588.85,516.14 L589.35,515.05 L589.85,515.56 L590.35,514.36 L590.85,515.09 L591.35,515.77 L591.85,515.48 L592.35,515.63 L592.85,514.92 L593.35,515.07 L593.85,516.26 L594.35,515.72 L594.85,515.12 L595.35,516.24 L595.85,515.15 L596.35,514.67 L596.85,516.05 L597.35,515.36 L597.85,516.14 L598.35,515.34 L598.85,516.18 L599.35,514.87 L599.85,516.23 L600.35,516.12 L600.85,515.74 L601.35,516.38 L601.85,514.97 L602.35,516.09 L602.85,514.62 L603.35,515.57 L603.85,515.36 L604.35,514.68 L604.85,515.72 L605.35,513.33 L605.85,514.43 L606.35,516.24 L606.85,515.18 L607.35,514.13 L607.85,515.44 L608.35,516 L608.85,515.04 L609.35,514.38 L609.85,515.91 L610.35,516.06 L610.85,515.93 L611.35,516.24 L611.85,515.46 L612.35,515.54 L612.85,514.87 L613.35,516.07 L613.85,515.92 L614.35,515.17 L614.85,515.95 L615.35,515.2 L615.85,516.3 L616.35,510.18 L616.85,516.48 L617.35,516.41 L617.85,516.42 L618.35,516.25 L618.85,513.52 L619.35,515.96 L619.85,515.52 L620.35,516.33 L620.85,515.64 L621.35,515.39 L621.85,515.5 L622.35,515.54 L622.85,516.38 L623.35,516.28 L623.85,515.64 L624.35,516.25 L624.85,515.63 L625.35,514.99 L625.85,514.54 L626.35,516.25 L626.85,516.54 L627.35,514.32 L627.85,515.96 L628.35,516.1 L628.85,516.18 L629.35,516.37 L629.85,515.51 L630.35,516.41 L630.85,513.64 L631.35,511.51 L631.85,514.32 L632.35,515.23 L632.85,515.73 L633.35,515.75 L633.85,515.69 L634.35,516.35 L634.85,515.77 L635.35,516.56 L635.85,515.87 L636.35,516.55 L636.85,516.43 L637.35,515.51 L637.85,515.27 L638.35,516.28 L638.85,515.49 L639.35,516.16 L639.85,515.31 L640.35,515.43 L640.85,515.27 L641.35,515.68 L641.85,515.14 L642.35,515.72 L642.85,514.15 L643.35,515.93 L643.85,516.25 L644.35,516.51 L644.85,516.44 L645.35,512.97 L645.85,516.38 L646.35,516.63 L646.85,515.47 L647.35,515.9 L647.85,516.5 L648.35,514.48 L648.85,516.06 L649.35,515.66 L649.85,516.06 L650.35,516.58 L650.85,516.13 L651.35,515.63 L651.85,516.13 L652.35,515.5 L652.85,514.88 L653.35,516.47 L653.85,515.75 L654.35,515.61 L654.85,515.8 L655.35,516.42 L655.85,516.58 L656.35,514.89 L656.85,516.5 L657.35,516.19 L657.85,516.72 L658.35,514.5 L658.85,515.91 L659.35,516.67 L659.85,515.15 L660.35,515.87 L660.85,514.93 L661.35,515.8 L661.85,512.82 L662.35,516.16 L662.85,515.55 L663.35,516.35 L663.85,514.88 L664.35,516.18 L664.85,514.88 L665.35,515.13 L665.85,515.54 L666.35,516.72 L666.85,516.45 L667.35,516.71 L667.85,515.29 L668.35,516.55 L668.85,515.61 L669.35,516.62 L669.85,515.24 L670.35,515.64 L670.85,516.11 L671.35,516.56 L671.85,516.4 L672.35,514.56 L672.85,516.62 L673.35,516.42 L673.85,514.05 L674.35,513.04 L674.85,514.64 L675.35,515.68 L675.85,516.17 L676.35,516.67 L676.85,515.6 L677.35,516.53 L677.85,515.9 L678.35,516.79 L678.85,514.96 L679.35,515.14 L679.85,515.52 L680.35,516.66 L680.85,515.01 L681.35,515.32 L681.85,516.47 L682.35,516.09 L682.85,513.5 L683.35,516.36 L683.85,515.51 L684.35,515.75 L684.85,516.35 L685.35,516.12 L685.85,516.84 L686.35,516.69 L686.85,515.56 L687.35,515.54 L687.85,516.34 L688.35,515.85 L688.85,515.43 L689.35,515.3 L689.85,515.33 L690.35,511.67 L690.85,516.65 L691.35,515.67 L691.85,516.18 L692.35,516.91 L692.85,515.83 L693.35,515.65 L693.85,516.95 L694.35,515.06 L694.85,515.31 L695.35,516.53 L695.85,516.37 L696.35,516.93 L696.85,516.27 L697.35,516.77 L697.85,516.86 L698.35,516.33 L698.85,516.86 L699.35,516.39 L699.85,516.71 L700.35,515.89 L700.85,516.8 L701.35,515.91 L701.85,515.87 L702.35,516.63 L702.85,516.32 L703.35,515.54 L703.85,516.68 L704.35,515.37 L704.85,516.66 L705.35,516.79 L705.85,516.4 L706.35,516.38 L706.85,515.78 L707.35,517.03 L707.85,516.49 L708.35,515.28 L708.85,513.48 L709.35,516.68 L709.85,516.85 L710.35,516.35 L710.85,516.07 L711.35,516.59 L711.85,516.52 L712.35,515.92 L712.85,517.06 L713.35,516.67 L713.85,516.87 L714.35,516.96 L714.85,515.52 L715.35,516.03 L715.85,516.37 L716.35,513.83 L716.85,516.41 L717.35,516.93 L717.85,516.05 L718.35,516.8 L718.85,516.99 L719.35,516.3 L719.85,516.97 L720.35,516.34 L720.85,516.58 L721.35,516.41 L721.85,516.8 L722.35,516.65 L722.85,517.01 L723.35,516.68 L723.85,515.53 L724.35,515.41 L724.85,516.9 L725.35,517.11 L725.85,514.82 L726.35,515.2 L726.85,516.29 L727.35,516.76 L727.85,516.9 L728.35,515.97 L728.85,515.78 L729.35,514.39 L729.85,515.53 L730.35,517.16 L730.85,515.91 L731.35,515.76 L731.85,515.58 L732.35,516.93 L732.85,515.89 L733.35,515.71 L733.35,522.6 Z M251,522.6 L251,452 L251.6,446.5 L253,447 L254.8,449 L255.8,454 L257.2,455.5 L258.4,451 L260.2,452.5 L261.2,449 L262,440 L264.5,440 L265.5,459 L266.8,471 L268.3,485 L269.5,490 L270.7,498 L272,501 L273,504.6 L275,507 L277.2,510 L279,513 L280,522.6 Z M261.05,522.6 L261.44,514.6 L261.65,224.2 L264.75,224.2 L264.96,514.6 L265.35,522.6 Z M298.15,522.6 L298.57,514.6 L298.8,233.8 L299.4,233.8 L299.63,514.6 L300.05,522.6 Z M467.9,522.6 L468.29,514.6 L468.5,395.6 L468.9,395.6 L469.11,514.6 L469.5,522.6 Z M548.45,522.6 L548.84,514.6 L549.05,231.3 L549.75,231.3 L549.96,514.6 L550.35,522.6 Z M570.55,522.6 L570.94,514.6 L571.15,332 L571.65,332 L571.86,514.6 L572.25,522.6 Z M94.75,522.6 L95.33,520.5 L95.65,508.6 L95.95,508.6 L96.27,520.5 L96.85,522.6 Z M105.75,522.6 L106.33,520.5 L106.65,508.6 L106.95,508.6 L107.27,520.5 L107.85,522.6 Z M119.55,522.6 L120.13,520.5 L120.45,508.6 L120.75,508.6 L121.06,520.5 L121.65,522.6 Z M210.65,522.6 L211.23,520.5 L211.55,508.6 L211.85,508.6 L212.16,520.5 L212.75,522.6 Z M216.75,522.6 L217.34,520.5 L217.65,508.6 L217.95,508.6 L218.27,520.5 L218.85,522.6 Z M235.95,522.6 L236.53,520.5 L236.85,508.6 L237.15,508.6 L237.47,520.5 L238.05,522.6 Z M253.25,522.6 L253.84,520.5 L254.15,508.6 L254.45,508.6 L254.77,520.5 L255.35,522.6 Z M280.25,522.6 L280.84,520.5 L281.15,508.6 L281.45,508.6 L281.76,520.5 L282.35,522.6 Z M285.95,522.6 L286.54,520.5 L286.85,508.6 L287.15,508.6 L287.46,520.5 L288.05,522.6 Z M349.45,522.6 L350.04,520.5 L350.35,508.6 L350.65,508.6 L350.96,520.5 L351.55,522.6 Z M389.25,522.6 L389.84,520.5 L390.15,508.6 L390.45,508.6 L390.76,520.5 L391.35,522.6 Z M559.05,522.6 L559.63,520.5 L559.95,508.6 L560.25,508.6 L560.57,520.5 L561.15,522.6 Z" fill="none" stroke="#a81818" stroke-width="1.3" stroke-linejoin="round"/><path d="M82.35,522.6 L82.35,501.73 L82.85,502.03 L83.35,504.27 L83.85,502.91 L84.35,502.74 L84.85,502.68 L85.35,504.27 L85.85,503.81 L86.35,502.42 L86.85,502.58 L87.35,503.58 L87.85,503.34 L88.35,503.22 L88.85,501.55 L89.35,503.76 L89.85,500.43 L90.35,503.84 L90.85,502.36 L91.35,501.99 L91.85,501.61 L92.35,503.46 L92.85,502.12 L93.35,505.41 L93.85,504.03 L94.35,504.36 L94.85,500.33 L95.35,499.05 L95.85,501.62 L96.35,502.95 L96.85,505.25 L97.35,504.86 L97.85,507.88 L98.35,507.66 L98.85,508.72 L99.35,508.18 L99.85,510.49 L100.35,509.08 L100.85,510.38 L101.35,511.24 L101.85,511.15 L102.35,511.89 L102.85,512.53 L103.35,511.46 L103.85,514.06 L104.35,513.65 L104.85,515.43 L105.35,515.55 L105.85,513.21 L106.35,512.44 L106.85,515.29 L107.35,514.45 L107.85,514.18 L108.35,514.71 L108.85,514.28 L109.35,521.12 L109.85,521 L110.35,520.85 L110.85,521.06 L111.35,520.62 L111.85,521.05 L112.35,521 L112.85,521 L113.35,521.05 L113.85,521.16 L114.35,520.83 L114.85,521.02 L115.35,520.95 L115.85,520.87 L116.35,520.39 L116.85,520.14 L117.35,514.09 L117.85,513.22 L118.35,512.56 L118.85,511.31 L119.35,510.51 L119.85,509.01 L120.35,509.43 L120.85,508.22 L121.35,509.09 L121.85,511.29 L122.35,510.85 L122.85,511.83 L123.35,512.07 L123.85,512.88 L124.35,513.26 L124.85,514.42 L125.35,513.92 L125.85,515.05 L126.35,515.52 L126.85,515.03 L127.35,513.11 L127.85,513.99 L128.35,514.98 L128.85,514.09 L129.35,513.4 L129.85,515.35 L130.35,515.18 L130.85,515.28 L131.35,515.04 L131.85,515.03 L132.35,514.73 L132.85,514.98 L133.35,515.41 L133.85,515.14 L134.35,515.48 L134.85,513.32 L135.35,511.87 L135.85,513.71 L136.35,513.52 L136.85,515.18 L137.35,514.47 L137.85,514.51 L138.35,515.58 L138.85,514.86 L139.35,514.84 L139.85,514.41 L140.35,515.54 L140.85,514.32 L141.35,515.21 L141.85,515.09 L142.35,513.35 L142.85,514.14 L143.35,515.29 L143.85,515.23 L144.35,514.33 L144.85,514.36 L145.35,515.57 L145.85,515.07 L146.35,514.95 L146.85,515.52 L147.35,514.73 L147.85,515.22 L148.35,513.96 L148.85,510.54 L149.35,510.5 L149.85,512.81 L150.35,514.82 L150.85,515.41 L151.35,514.71 L151.85,514.46 L152.35,515.16 L152.85,514.59 L153.35,513.8 L153.85,508.55 L154.35,512.13 L154.85,513.47 L155.35,513.14 L155.85,512.11 L156.35,514.24 L156.85,513.8 L157.35,515.43 L157.85,513.23 L158.35,514.96 L158.85,514.84 L159.35,513.47 L159.85,514.37 L160.35,514.98 L160.85,514.93 L161.35,514.87 L161.85,514.01 L162.35,512.85 L162.85,509.26 L163.35,512.91 L163.85,513.04 L164.35,513.75 L164.85,514.78 L165.35,514.01 L165.85,513.13 L166.35,507.95 L166.85,509 L167.35,513.31 L167.85,513.7 L168.35,513.69 L168.85,512.92 L169.35,511.76 L169.85,513.9 L170.35,514.34 L170.85,513.57 L171.35,513.7 L171.85,510.5 L172.35,506.15 L172.85,509.26 L173.35,511.02 L173.85,513.39 L174.35,512.61 L174.85,510.25 L175.35,513.07 L175.85,512.81 L176.35,514.12 L176.85,509.31 L177.35,507.14 L177.85,504.63 L178.35,510.86 L178.85,513.43 L179.35,511.89 L179.85,502.32 L180.35,500.06 L180.85,508.68 L181.35,511.95 L181.85,511.58 L182.35,513.13 L182.85,510.52 L183.35,512.79 L183.85,513.35 L184.35,511.37 L184.85,511.57 L185.35,512.28 L185.85,508.18 L186.35,496.67 L186.85,506.19 L187.35,511.12 L187.85,511.01 L188.35,512.46 L188.85,513.54 L189.35,512.67 L189.85,513.27 L190.35,513.25 L190.85,509.18 L191.35,499.89 L191.85,508.33 L192.35,510.9 L192.85,513.43 L193.35,512.96 L193.85,512.85 L194.35,513.99 L194.85,512.72 L195.35,511.59 L195.85,511.39 L196.35,513.15 L196.85,511.59 L197.35,513.41 L197.85,513.22 L198.35,514.13 L198.85,513.2 L199.35,514.34 L199.85,514.15 L200.35,513.99 L200.85,514.6 L201.35,514.87 L201.85,514.26 L202.35,515.2 L202.85,513.66 L203.35,514.82 L203.85,514.39 L204.35,515.13 L204.85,513.81 L205.35,514.41 L205.85,514.62 L206.35,515.28 L206.85,514.25 L207.35,513.41 L207.85,515.26 L208.35,515.08 L208.85,515 L209.35,515.07 L209.85,515.13 L210.35,515.15 L210.85,514.37 L211.35,514.39 L211.85,513.92 L212.35,514.51 L212.85,512.88 L213.35,503.98 L213.85,507.06 L214.35,509.9 L214.85,504.41 L215.35,511.1 L215.85,514.49 L216.35,513.45 L216.85,514.15 L217.35,515.57 L217.85,514.74 L218.35,513.99 L218.85,513.51 L219.35,514.71 L219.85,515.44 L220.35,515.17 L220.85,515.46 L221.35,515.39 L221.85,515.26 L222.35,514.25 L222.85,514.08 L223.35,515.55 L223.85,515.51 L224.35,515.49 L224.85,512.77 L225.35,514.97 L225.85,515.2 L226.35,515.25 L226.85,515.52 L227.35,512.09 L227.85,514.59 L228.35,514.76 L228.85,514.51 L229.35,514.56 L229.85,515.4 L230.35,514.69 L230.85,514.86 L231.35,513.74 L231.85,514.21 L232.35,514.16 L232.85,513.88 L233.35,515.1 L233.85,514.08 L234.35,513.6 L234.85,513.63 L235.35,512.5 L235.85,512.08 L236.35,510.17 L236.85,507.17 L237.35,508.88 L237.85,506.42 L238.35,505.98 L238.85,502.22 L239.35,503.42 L239.85,502.79 L240.35,502.58 L240.85,502.44 L241.35,500.34 L241.85,502.02 L242.35,503.03 L242.85,505.85 L243.35,508.3 L243.85,508.51 L244.35,508.42 L244.85,511.37 L245.35,512.83 L245.85,512.23 L246.35,512.46 L246.85,513.73 L247.35,514.17 L247.85,514.34 L248.35,515.32 L248.85,515.07 L249.35,514.46 L249.85,513.97 L250.35,515.37 L250.85,513.36 L251.35,515.55 L251.85,514.16 L252.35,514.23 L252.85,514.02 L253.35,514.71 L253.85,513.94 L254.35,515.28 L254.85,515.14 L255.35,513.74 L255.85,515.04 L256.35,514.1 L256.85,513.6 L257.35,515.35 L257.85,515.55 L258.35,514.77 L258.85,514.46 L259.35,514.95 L259.85,515.13 L260.35,512.84 L260.85,515.54 L261.35,515.08 L261.85,515.14 L262.35,511.89 L262.85,513.22 L263.35,514.8 L263.85,514.35 L264.35,515.08 L264.85,512.04 L265.35,515.55 L265.85,512.61 L266.35,512.36 L266.85,515.2 L267.35,515.2 L267.85,513.93 L268.35,514.73 L268.85,515.33 L269.35,515.58 L269.85,513.89 L270.35,514.54 L270.85,514.88 L271.35,515 L271.85,515.36 L272.35,515.27 L272.85,514.53 L273.35,515.01 L273.85,511.96 L274.35,514.57 L274.85,515.15 L275.35,513.6 L275.85,513.97 L276.35,514.18 L276.85,514.61 L277.35,514.72 L277.85,514.64 L278.35,514.38 L278.85,515.15 L279.35,513.69 L279.85,514.77 L280.35,515.54 L280.85,514.77 L281.35,515.22 L281.85,514.31 L282.35,513.67 L282.85,515.15 L283.35,513.75 L283.85,513.45 L284.35,514.44 L284.85,514.98 L285.35,514.96 L285.85,515.17 L286.35,515.33 L286.85,514.73 L287.35,514.5 L287.85,514.48 L288.35,515.34 L288.85,514.41 L289.35,515.37 L289.85,514.27 L290.35,513.87 L290.85,515.19 L291.35,515.03 L291.85,514.1 L292.35,514.73 L292.85,514.76 L293.35,514.02 L293.85,515.14 L294.35,514.94 L294.85,515.23 L295.35,511.7 L295.85,513.44 L296.35,512.38 L296.85,512.93 L297.35,510.84 L297.85,511.02 L298.35,508.42 L298.85,507.36 L299.35,508.83 L299.85,508.82 L300.35,509.87 L300.85,511.36 L301.35,513.15 L301.85,512.85 L302.35,514.36 L302.85,515.04 L303.35,513.07 L303.85,513.43 L304.35,514.02 L304.85,514.17 L305.35,514.82 L305.85,514.6 L306.35,514.51 L306.85,515.53 L307.35,514.66 L307.85,514.33 L308.35,515.34 L308.85,514.22 L309.35,515.19 L309.85,513.98 L310.35,514.83 L310.85,515.53 L311.35,513.42 L311.85,514.39 L312.35,514.88 L312.85,514.32 L313.35,515.09 L313.85,513.48 L314.35,513.39 L314.85,515.49 L315.35,515.17 L315.85,513.51 L316.35,511.44 L316.85,512.81 L317.35,515.3 L317.85,513.73 L318.35,514.54 L318.85,513.82 L319.35,514.61 L319.85,514.99 L320.35,512.85 L320.85,514.95 L321.35,515.19 L321.85,514.52 L322.35,515.13 L322.85,514.74 L323.35,515.34 L323.85,515.06 L324.35,515.21 L324.85,514.82 L325.35,515.05 L325.85,515.17 L326.35,514.01 L326.85,513.83 L327.35,513.68 L327.85,514.86 L328.35,514.47 L328.85,513.19 L329.35,514.69 L329.85,514.6 L330.35,514.54 L330.85,514.7 L331.35,514.79 L331.85,514.33 L332.35,514.52 L332.85,515.47 L333.35,515.25 L333.85,512.07 L334.35,515.52 L334.85,515.32 L335.35,515.39 L335.85,515.28 L336.35,515.05 L336.85,514.39 L337.35,511.86 L337.85,515.3 L338.35,514.46 L338.85,515.35 L339.35,513.81 L339.85,513.85 L340.35,513.62 L340.85,513.62 L341.35,513.23 L341.85,515.3 L342.35,515.53 L342.85,514.66 L343.35,514.47 L343.85,513.17 L344.35,515.4 L344.85,515.29 L345.35,513.23 L345.85,514.35 L346.35,514.71 L346.85,515.57 L347.35,512.16 L347.85,514.25 L348.35,513.96 L348.85,514.32 L349.35,513.99 L349.85,514.2 L350.35,513.13 L350.85,514.23 L351.35,515.25 L351.85,515.58 L352.35,513.23 L352.85,513.37 L353.35,514.72 L353.85,515.19 L354.35,515.24 L354.85,515.1 L355.35,513.53 L355.85,515.15 L356.35,514.36 L356.85,513.63 L357.35,515.54 L357.85,515.35 L358.35,514.28 L358.85,514.13 L359.35,510.71 L359.85,514.86 L360.35,515.25 L360.85,515.49 L361.35,514.91 L361.85,512.6 L362.35,515.16 L362.85,514.87 L363.35,512.87 L363.85,511.75 L364.35,508.8 L364.85,514.06 L365.35,515 L365.85,515.55 L366.35,513.36 L366.85,514.84 L367.35,515.51 L367.85,515.23 L368.35,515.3 L368.85,515.56 L369.35,515.45 L369.85,513.74 L370.35,513.86 L370.85,513.36 L371.35,514.85 L371.85,514.23 L372.35,512.76 L372.85,514.87 L373.35,514.41 L373.85,514.69 L374.35,515.05 L374.85,514.29 L375.35,515.58 L375.85,515.5 L376.35,514.65 L376.85,514.4 L377.35,514.55 L377.85,514.51 L378.35,515.47 L378.85,515.46 L379.35,515.33 L379.85,514.68 L380.35,514.13 L380.85,515.3 L381.35,514.2 L381.85,515.25 L382.35,513.18 L382.85,514.7 L383.35,515.36 L383.85,515.01 L384.35,514.85 L384.85,514.25 L385.35,514.94 L385.85,515.53 L386.35,514.62 L386.85,514.55 L387.35,513.79 L387.85,513.75 L388.35,514.61 L388.85,515.39 L389.35,515.32 L389.85,512.66 L390.35,514.17 L390.85,515.21 L391.35,515.39 L391.85,513 L392.35,514.67 L392.85,514.7 L393.35,515.39 L393.85,515.48 L394.35,514.45 L394.85,513.16 L395.35,514.42 L395.85,514.07 L396.35,515.32 L396.85,515.05 L397.35,512.61 L397.85,513.87 L398.35,513.15 L398.85,514.74 L399.35,514.07 L399.85,513.64 L400.35,513.06 L400.85,514.76 L401.35,514.86 L401.85,511.87 L402.35,515.46 L402.85,509.76 L403.35,514.87 L403.85,513.2 L404.35,514.81 L404.85,514.7 L405.35,514.13 L405.85,514.79 L406.35,515.2 L406.85,513.69 L407.35,515.06 L407.85,514.26 L408.35,515.53 L408.85,513.49 L409.35,514.95 L409.85,515.53 L410.35,512.75 L410.85,514.72 L411.35,514.49 L411.85,514.02 L412.35,515.38 L412.85,513.54 L413.35,514.69 L413.85,514.68 L414.35,514.78 L414.85,513.13 L415.35,514.65 L415.85,513.67 L416.35,515.52 L416.85,514.57 L417.35,514.91 L417.85,515.47 L418.35,515.47 L418.85,515.18 L419.35,514.68 L419.85,514.84 L420.35,513.75 L420.85,514.92 L421.35,513.96 L421.85,514.17 L422.35,513.84 L422.85,512.33 L423.35,515.15 L423.85,515.4 L424.35,515.27 L424.85,514.54 L425.35,515.23 L425.85,514.17 L426.35,513.51 L426.85,513.17 L427.35,514.7 L427.85,513.52 L428.35,515.06 L428.85,514.8 L429.35,514.63 L429.85,515.39 L430.35,511.83 L430.85,515.5 L431.35,513.52 L431.85,514.06 L432.35,514.09 L432.85,514.53 L433.35,513.44 L433.85,514.98 L434.35,515.05 L434.85,515.07 L435.35,514.12 L435.85,513.95 L436.35,514.49 L436.85,514.34 L437.35,515.4 L437.85,515.11 L438.35,515.57 L438.85,511.33 L439.35,514.97 L439.85,514.18 L440.35,514.26 L440.85,515.44 L441.35,514.03 L441.85,514.85 L442.35,515.25 L442.85,515.3 L443.35,513.52 L443.85,514.62 L444.35,514.43 L444.85,514.44 L445.35,513.94 L445.85,515.35 L446.35,514.54 L446.85,513.89 L447.35,514.46 L447.85,515.21 L448.35,513.66 L448.85,515.12 L449.35,512.51 L449.85,515.3 L450.35,515.09 L450.85,515.3 L451.35,514.28 L451.85,513.13 L452.35,515.22 L452.85,515.2 L453.35,515.39 L453.85,515.47 L454.35,515.2 L454.85,515.46 L455.35,515.49 L455.85,514.3 L456.35,512.55 L456.85,515.28 L457.35,514.53 L457.85,514.9 L458.35,515.13 L458.85,513.39 L459.35,514.91 L459.85,515.4 L460.35,514.8 L460.85,515.22 L461.35,514.48 L461.85,514.88 L462.35,514.59 L462.85,513.18 L463.35,515.26 L463.85,514.51 L464.35,515.06 L464.85,515.38 L465.35,513.97 L465.85,513.93 L466.35,513.1 L466.85,513.09 L467.35,510.31 L467.85,510.16 L468.35,510.09 L468.85,509.38 L469.35,509.89 L469.85,510.26 L470.35,509.45 L470.85,512.67 L471.35,512.99 L471.85,514.56 L472.35,514.06 L472.85,514.58 L473.35,514.97 L473.85,515.39 L474.35,515.54 L474.85,513.52 L475.35,515.16 L475.85,515.26 L476.35,514 L476.85,514.39 L477.35,513.34 L477.85,513.95 L478.35,515.12 L478.85,514.8 L479.35,514.76 L479.85,514.44 L480.35,515.2 L480.85,515.62 L481.35,514.44 L481.85,515.36 L482.35,515.25 L482.85,515.24 L483.35,512.92 L483.85,511.99 L484.35,514.42 L484.85,514.54 L485.35,514.4 L485.85,514.25 L486.35,514.86 L486.85,514.1 L487.35,514.75 L487.85,515.69 L488.35,515.44 L488.85,515.24 L489.35,514.41 L489.85,514.47 L490.35,512.79 L490.85,515.46 L491.35,514.79 L491.85,515.38 L492.35,514.59 L492.85,515.38 L493.35,515.19 L493.85,514.32 L494.35,514.99 L494.85,515.26 L495.35,513.78 L495.85,514.62 L496.35,514.49 L496.85,515.35 L497.35,515.53 L497.85,515.74 L498.35,515.53 L498.85,514.69 L499.35,515.38 L499.85,515.04 L500.35,513.55 L500.85,515.45 L501.35,513.84 L501.85,515.65 L502.35,515.34 L502.85,514.22 L503.35,515.65 L503.85,515.4 L504.35,513.5 L504.85,515.26 L505.35,513.52 L505.85,515.3 L506.35,515.34 L506.85,514.13 L507.35,515.31 L507.85,515.15 L508.35,515.08 L508.85,515.36 L509.35,514.56 L509.85,515.45 L510.35,513.88 L510.85,510.57 L511.35,515.07 L511.85,514.48 L512.35,515.25 L512.85,512.97 L513.35,515.36 L513.85,514.67 L514.35,513.14 L514.85,514.73 L515.35,514.01 L515.85,513.09 L516.35,515.14 L516.85,515.15 L517.35,515.49 L517.85,512.32 L518.35,515.7 L518.85,515.87 L519.35,514.17 L519.85,515.42 L520.35,514.75 L520.85,515.49 L521.35,514.67 L521.85,515.43 L522.35,514.11 L522.85,514.26 L523.35,514.53 L523.85,515.78 L524.35,515.48 L524.85,515.48 L525.35,514.62 L525.85,515.56 L526.35,515.04 L526.85,515.65 L527.35,515.18 L527.85,513.64 L528.35,514.52 L528.85,514.02 L529.35,514.53 L529.85,515.07 L530.35,515.43 L530.85,513.88 L531.35,515.81 L531.85,514.69 L532.35,515.81 L532.85,513.53 L533.35,514.13 L533.85,514.04 L534.35,515.11 L534.85,515.47 L535.35,515.9 L535.85,514.74 L536.35,515.01 L536.85,515.02 L537.35,514.99 L537.85,515.13 L538.35,515.71 L538.85,515.67 L539.35,513.65 L539.85,514.6 L540.35,515.86 L540.85,514.29 L541.35,512.87 L541.85,514.94 L542.35,513.99 L542.85,515.2 L543.35,514.42 L543.85,513.79 L544.35,514.38 L544.85,514.62 L545.35,512.52 L545.85,514.18 L546.35,513.98 L546.85,513.51 L547.35,511.61 L547.85,509.35 L548.35,507.54 L548.85,506.71 L549.35,507.47 L549.85,507.54 L550.35,507.97 L550.85,508.61 L551.35,510.35 L551.85,513 L552.35,514.2 L552.85,515.1 L553.35,514.6 L553.85,514.63 L554.35,513.38 L554.85,515.66 L555.35,515.02 L555.85,515.93 L556.35,515.34 L556.85,515.05 L557.35,515.11 L557.85,515.72 L558.35,514.35 L558.85,513.55 L559.35,513.6 L559.85,511.71 L560.35,511.84 L560.85,511.87 L561.35,514.38 L561.85,515.29 L562.35,515.6 L562.85,515.36 L563.35,516.05 L563.85,515.65 L564.35,515.79 L564.85,514.48 L565.35,514.93 L565.85,515.5 L566.35,515.28 L566.85,515.04 L567.35,515.2 L567.85,515.5 L568.35,514.6 L568.85,513.06 L569.35,512.58 L569.85,510.15 L570.35,509.69 L570.85,508.57 L571.35,507.95 L571.85,508.34 L572.35,509.73 L572.85,509.89 L573.35,509.8 L573.85,512.96 L574.35,514.66 L574.85,515.48 L575.35,515.19 L575.85,515.78 L576.35,515.61 L576.85,516.15 L577.35,514.8 L577.85,516.05 L578.35,515.31 L578.85,515.47 L579.35,515.54 L579.85,515.95 L580.35,514.13 L580.85,515.89 L581.35,515.55 L581.85,515.53 L582.35,516.26 L582.85,515.53 L583.35,516.16 L583.85,514.1 L584.35,516.01 L584.85,516.11 L585.35,516.13 L585.85,510.65 L586.35,514.49 L586.85,515.63 L587.35,515.94 L587.85,514.61 L588.35,516.25 L588.85,516.14 L589.35,515.05 L589.85,515.56 L590.35,514.36 L590.85,515.09 L591.35,515.77 L591.85,515.48 L592.35,515.63 L592.85,514.92 L593.35,515.07 L593.85,516.26 L594.35,515.72 L594.85,515.12 L595.35,516.24 L595.85,515.15 L596.35,514.67 L596.85,516.05 L597.35,515.36 L597.85,516.14 L598.35,515.34 L598.85,516.18 L599.35,514.87 L599.85,516.23 L600.35,516.12 L600.85,515.74 L601.35,516.38 L601.85,514.97 L602.35,516.09 L602.85,514.62 L603.35,515.57 L603.85,515.36 L604.35,514.68 L604.85,515.72 L605.35,513.33 L605.85,514.43 L606.35,516.24 L606.85,515.18 L607.35,514.13 L607.85,515.44 L608.35,516 L608.85,515.04 L609.35,514.38 L609.85,515.91 L610.35,516.06 L610.85,515.93 L611.35,516.24 L611.85,515.46 L612.35,515.54 L612.85,514.87 L613.35,516.07 L613.85,515.92 L614.35,515.17 L614.85,515.95 L615.35,515.2 L615.85,516.3 L616.35,510.18 L616.85,516.48 L617.35,516.41 L617.85,516.42 L618.35,516.25 L618.85,513.52 L619.35,515.96 L619.85,515.52 L620.35,516.33 L620.85,515.64 L621.35,515.39 L621.85,515.5 L622.35,515.54 L622.85,516.38 L623.35,516.28 L623.85,515.64 L624.35,516.25 L624.85,515.63 L625.35,514.99 L625.85,514.54 L626.35,516.25 L626.85,516.54 L627.35,514.32 L627.85,515.96 L628.35,516.1 L628.85,516.18 L629.35,516.37 L629.85,515.51 L630.35,516.41 L630.85,513.64 L631.35,511.51 L631.85,514.32 L632.35,515.23 L632.85,515.73 L633.35,515.75 L633.85,515.69 L634.35,516.35 L634.85,515.77 L635.35,516.56 L635.85,515.87 L636.35,516.55 L636.85,516.43 L637.35,515.51 L637.85,515.27 L638.35,516.28 L638.85,515.49 L639.35,516.16 L639.85,515.31 L640.35,515.43 L640.85,515.27 L641.35,515.68 L641.85,515.14 L642.35,515.72 L642.85,514.15 L643.35,515.93 L643.85,516.25 L644.35,516.51 L644.85,516.44 L645.35,512.97 L645.85,516.38 L646.35,516.63 L646.85,515.47 L647.35,515.9 L647.85,516.5 L648.35,514.48 L648.85,516.06 L649.35,515.66 L649.85,516.06 L650.35,516.58 L650.85,516.13 L651.35,515.63 L651.85,516.13 L652.35,515.5 L652.85,514.88 L653.35,516.47 L653.85,515.75 L654.35,515.61 L654.85,515.8 L655.35,516.42 L655.85,516.58 L656.35,514.89 L656.85,516.5 L657.35,516.19 L657.85,516.72 L658.35,514.5 L658.85,515.91 L659.35,516.67 L659.85,515.15 L660.35,515.87 L660.85,514.93 L661.35,515.8 L661.85,512.82 L662.35,516.16 L662.85,515.55 L663.35,516.35 L663.85,514.88 L664.35,516.18 L664.85,514.88 L665.35,515.13 L665.85,515.54 L666.35,516.72 L666.85,516.45 L667.35,516.71 L667.85,515.29 L668.35,516.55 L668.85,515.61 L669.35,516.62 L669.85,515.24 L670.35,515.64 L670.85,516.11 L671.35,516.56 L671.85,516.4 L672.35,514.56 L672.85,516.62 L673.35,516.42 L673.85,514.05 L674.35,513.04 L674.85,514.64 L675.35,515.68 L675.85,516.17 L676.35,516.67 L676.85,515.6 L677.35,516.53 L677.85,515.9 L678.35,516.79 L678.85,514.96 L679.35,515.14 L679.85,515.52 L680.35,516.66 L680.85,515.01 L681.35,515.32 L681.85,516.47 L682.35,516.09 L682.85,513.5 L683.35,516.36 L683.85,515.51 L684.35,515.75 L684.85,516.35 L685.35,516.12 L685.85,516.84 L686.35,516.69 L686.85,515.56 L687.35,515.54 L687.85,516.34 L688.35,515.85 L688.85,515.43 L689.35,515.3 L689.85,515.33 L690.35,511.67 L690.85,516.65 L691.35,515.67 L691.85,516.18 L692.35,516.91 L692.85,515.83 L693.35,515.65 L693.85,516.95 L694.35,515.06 L694.85,515.31 L695.35,516.53 L695.85,516.37 L696.35,516.93 L696.85,516.27 L697.35,516.77 L697.85,516.86 L698.35,516.33 L698.85,516.86 L699.35,516.39 L699.85,516.71 L700.35,515.89 L700.85,516.8 L701.35,515.91 L701.85,515.87 L702.35,516.63 L702.85,516.32 L703.35,515.54 L703.85,516.68 L704.35,515.37 L704.85,516.66 L705.35,516.79 L705.85,516.4 L706.35,516.38 L706.85,515.78 L707.35,517.03 L707.85,516.49 L708.35,515.28 L708.85,513.48 L709.35,516.68 L709.85,516.85 L710.35,516.35 L710.85,516.07 L711.35,516.59 L711.85,516.52 L712.35,515.92 L712.85,517.06 L713.35,516.67 L713.85,516.87 L714.35,516.96 L714.85,515.52 L715.35,516.03 L715.85,516.37 L716.35,513.83 L716.85,516.41 L717.35,516.93 L717.85,516.05 L718.35,516.8 L718.85,516.99 L719.35,516.3 L719.85,516.97 L720.35,516.34 L720.85,516.58 L721.35,516.41 L721.85,516.8 L722.35,516.65 L722.85,517.01 L723.35,516.68 L723.85,515.53 L724.35,515.41 L724.85,516.9 L725.35,517.11 L725.85,514.82 L726.35,515.2 L726.85,516.29 L727.35,516.76 L727.85,516.9 L728.35,515.97 L728.85,515.78 L729.35,514.39 L729.85,515.53 L730.35,517.16 L730.85,515.91 L731.35,515.76 L731.85,515.58 L732.35,516.93 L732.85,515.89 L733.35,515.71 L733.35,522.6 Z M251,522.6 L251,452 L251.6,446.5 L253,447 L254.8,449 L255.8,454 L257.2,455.5 L258.4,451 L260.2,452.5 L261.2,449 L262,440 L264.5,440 L265.5,459 L266.8,471 L268.3,485 L269.5,490 L270.7,498 L272,501 L273,504.6 L275,507 L277.2,510 L279,513 L280,522.6 Z M261.05,522.6 L261.44,514.6 L261.65,224.2 L264.75,224.2 L264.96,514.6 L265.35,522.6 Z M298.15,522.6 L298.57,514.6 L298.8,233.8 L299.4,233.8 L299.63,514.6 L300.05,522.6 Z M467.9,522.6 L468.29,514.6 L468.5,395.6 L468.9,395.6 L469.11,514.6 L469.5,522.6 Z M548.45,522.6 L548.84,514.6 L549.05,231.3 L549.75,231.3 L549.96,514.6 L550.35,522.6 Z M570.55,522.6 L570.94,514.6 L571.15,332 L571.65,332 L571.86,514.6 L572.25,522.6 Z M94.75,522.6 L95.33,520.5 L95.65,508.6 L95.95,508.6 L96.27,520.5 L96.85,522.6 Z M105.75,522.6 L106.33,520.5 L106.65,508.6 L106.95,508.6 L107.27,520.5 L107.85,522.6 Z M119.55,522.6 L120.13,520.5 L120.45,508.6 L120.75,508.6 L121.06,520.5 L121.65,522.6 Z M210.65,522.6 L211.23,520.5 L211.55,508.6 L211.85,508.6 L212.16,520.5 L212.75,522.6 Z M216.75,522.6 L217.34,520.5 L217.65,508.6 L217.95,508.6 L218.27,520.5 L218.85,522.6 Z M235.95,522.6 L236.53,520.5 L236.85,508.6 L237.15,508.6 L237.47,520.5 L238.05,522.6 Z M253.25,522.6 L253.84,520.5 L254.15,508.6 L254.45,508.6 L254.77,520.5 L255.35,522.6 Z M280.25,522.6 L280.84,520.5 L281.15,508.6 L281.45,508.6 L281.76,520.5 L282.35,522.6 Z M285.95,522.6 L286.54,520.5 L286.85,508.6 L287.15,508.6 L287.46,520.5 L288.05,522.6 Z M349.45,522.6 L350.04,520.5 L350.35,508.6 L350.65,508.6 L350.96,520.5 L351.55,522.6 Z M389.25,522.6 L389.84,520.5 L390.15,508.6 L390.45,508.6 L390.76,520.5 L391.35,522.6 Z M559.05,522.6 L559.63,520.5 L559.95,508.6 L560.25,508.6 L560.57,520.5 L561.15,522.6 Z" fill="#f80000"/>
<g stroke="#a42a36" stroke-width="1.8"><line x1="95.8" y1="514.6" x2="95.8" y2="461.6"/><line x1="106.8" y1="514.6" x2="106.8" y2="499"/><line x1="120.6" y1="514.6" x2="120.6" y2="433.7"/><line x1="211.7" y1="514.6" x2="211.7" y2="472.7"/><line x1="217.8" y1="514.6" x2="217.8" y2="427.5"/><line x1="237" y1="514.6" x2="237" y2="409"/><line x1="254.3" y1="514.6" x2="254.3" y2="366.3"/><line x1="281.3" y1="514.6" x2="281.3" y2="474.6"/><line x1="287" y1="514.6" x2="287" y2="503"/><line x1="350.5" y1="514.6" x2="350.5" y2="508.6"/><line x1="390.3" y1="514.6" x2="390.3" y2="509.7"/><line x1="560.1" y1="514.6" x2="560.1" y2="490.2"/></g>
<g fill="#000"><rect x="91" y="447.2" width="12.2" height="12.2"/><path d="M120.6,413.7 L126.1,422.7 L120.6,431.7 L115.1,422.7 Z" fill="#fff" stroke="#000" stroke-width="1.5"/><path d="M212.1,458.7 L217.5,465.2 L212.1,471.7 L206.7,465.2 Z"/><path transform="translate(218.6,417.5) scale(7.0)" d="M0,1 L-0.86,0.1 C-1.15,-0.2 -1.05,-0.98 -0.5,-0.98 C-0.2,-0.98 -0.02,-0.75 0,-0.55 C0.02,-0.75 0.2,-0.98 0.5,-0.98 C1.05,-0.98 1.15,-0.2 0.86,0.1 Z"/><rect x="232.1" y="395.2" width="12.2" height="12.2"/><g transform="translate(242.2,492) scale(1.0)"><circle cx="0" cy="-4.3" r="3.4"/><circle cx="-4.6" cy="2.6" r="3.4"/><circle cx="4.6" cy="2.6" r="3.4"/><circle cx="0" cy="0.8" r="2.2"/><path d="M-0.9,1 L0.9,1 L1.4,8.2 L-1.4,8.2 Z"/></g><path transform="translate(251.7,440) scale(7.0)" d="M0,1 L-0.86,0.1 C-1.15,-0.2 -1.05,-0.98 -0.5,-0.98 C-0.2,-0.98 -0.02,-0.75 0,-0.55 C0.02,-0.75 0.2,-0.98 0.5,-0.98 C1.05,-0.98 1.15,-0.2 0.86,0.1 Z"/><path d="M254.2,352.3 L259.6,358.8 L254.2,365.3 L248.8,358.8 Z"/><circle cx="263.1" cy="224.2" r="6.9"/><path transform="translate(281.7,464.6) scale(7.0)" d="M0,1 L-0.86,0.1 C-1.15,-0.2 -1.05,-0.98 -0.5,-0.98 C-0.2,-0.98 -0.02,-0.75 0,-0.55 C0.02,-0.75 0.2,-0.98 0.5,-0.98 C1.05,-0.98 1.15,-0.2 0.86,0.1 Z"/><circle cx="299.6" cy="233.8" r="6.9"/><circle cx="352.2" cy="498.2" r="6.9"/><path transform="translate(390.2,499) scale(7.0)" d="M0,1 L-0.86,0.1 C-1.15,-0.2 -1.05,-0.98 -0.5,-0.98 C-0.2,-0.98 -0.02,-0.75 0,-0.55 C0.02,-0.75 0.2,-0.98 0.5,-0.98 C1.05,-0.98 1.15,-0.2 0.86,0.1 Z"/><circle cx="469.1" cy="395.6" r="6.9"/><circle cx="549.5" cy="231.3" r="6.9"/><circle cx="560.3" cy="490.2" r="6.9"/><circle cx="572.8" cy="332" r="6.9"/><rect x="194.8" y="207.9" width="12.2" height="12.2"/><path d="M224.4,284.5 L229.9,293.5 L224.4,302.5 L218.9,293.5 Z" fill="#fff" stroke="#000" stroke-width="1.5"/><path d="M316,332.7 L321.4,339.2 L316,345.7 L310.6,339.2 Z"/><path transform="translate(322.5,297.6) scale(7.0)" d="M0,1 L-0.86,0.1 C-1.15,-0.2 -1.05,-0.98 -0.5,-0.98 C-0.2,-0.98 -0.02,-0.75 0,-0.55 C0.02,-0.75 0.2,-0.98 0.5,-0.98 C1.05,-0.98 1.15,-0.2 0.86,0.1 Z"/><rect x="336.4" y="282.9" width="12.2" height="12.2"/><g transform="translate(345.9,364.8) scale(1.0)"><circle cx="0" cy="-4.3" r="3.4"/><circle cx="-4.6" cy="2.6" r="3.4"/><circle cx="4.6" cy="2.6" r="3.4"/><circle cx="0" cy="0.8" r="2.2"/><path d="M-0.9,1 L0.9,1 L1.4,8.2 L-1.4,8.2 Z"/></g><path transform="translate(355.1,333) scale(7.0)" d="M0,1 L-0.86,0.1 C-1.15,-0.2 -1.05,-0.98 -0.5,-0.98 C-0.2,-0.98 -0.02,-0.75 0,-0.55 C0.02,-0.75 0.2,-0.98 0.5,-0.98 C1.05,-0.98 1.15,-0.2 0.86,0.1 Z"/><path d="M358.5,256.5 L363.9,263 L358.5,269.5 L353.1,263 Z"/><circle cx="367.7" cy="98.2" r="6.9"/><path transform="translate(385.6,351) scale(7.0)" d="M0,1 L-0.86,0.1 C-1.15,-0.2 -1.05,-0.98 -0.5,-0.98 C-0.2,-0.98 -0.02,-0.75 0,-0.55 C0.02,-0.75 0.2,-0.98 0.5,-0.98 C1.05,-0.98 1.15,-0.2 0.86,0.1 Z"/><circle cx="403.5" cy="100.4" r="6.9"/><circle cx="457" cy="364.7" r="6.9"/><path transform="translate(495.2,370.8) scale(7.0)" d="M0,1 L-0.86,0.1 C-1.15,-0.2 -1.05,-0.98 -0.5,-0.98 C-0.2,-0.98 -0.02,-0.75 0,-0.55 C0.02,-0.75 0.2,-0.98 0.5,-0.98 C1.05,-0.98 1.15,-0.2 0.86,0.1 Z"/><circle cx="573.9" cy="267.2" r="6.9"/><circle cx="654.4" cy="97.8" r="6.9"/><circle cx="665.3" cy="364.7" r="6.9"/><circle cx="676.3" cy="123" r="6.9"/></g>
<g><polyline points="30.3,588.7 30.3,294.4 238.5,30 889.7,30 889.7,324.3 681.5,588.7 30.3,588.7" fill="none" stroke="#000" stroke-width="2.5" stroke-linejoin="miter"/><line x1="30.3" y1="588.7" x2="30.3" y2="596.7" stroke="#000" stroke-width="2.2" /><line x1="46.58" y1="588.7" x2="46.58" y2="592.9" stroke="#000" stroke-width="2.2" /><line x1="62.86" y1="588.7" x2="62.86" y2="592.9" stroke="#000" stroke-width="2.2" /><line x1="79.14" y1="588.7" x2="79.14" y2="592.9" stroke="#000" stroke-width="2.2" /><line x1="95.42" y1="588.7" x2="95.42" y2="592.9" stroke="#000" stroke-width="2.2" /><line x1="111.7" y1="588.7" x2="111.7" y2="596.7" stroke="#000" stroke-width="2.2" /><line x1="127.98" y1="588.7" x2="127.98" y2="592.9" stroke="#000" stroke-width="2.2" /><line x1="144.26" y1="588.7" x2="144.26" y2="592.9" stroke="#000" stroke-width="2.2" /><line x1="160.54" y1="588.7" x2="160.54" y2="592.9" stroke="#000" stroke-width="2.2" /><line x1="176.82" y1="588.7" x2="176.82" y2="592.9" stroke="#000" stroke-width="2.2" /><line x1="193.1" y1="588.7" x2="193.1" y2="596.7" stroke="#000" stroke-width="2.2" /><line x1="209.38" y1="588.7" x2="209.38" y2="592.9" stroke="#000" stroke-width="2.2" /><line x1="225.66" y1="588.7" x2="225.66" y2="592.9" stroke="#000" stroke-width="2.2" /><line x1="241.94" y1="588.7" x2="241.94" y2="592.9" stroke="#000" stroke-width="2.2" /><line x1="258.22" y1="588.7" x2="258.22" y2="592.9" stroke="#000" stroke-width="2.2" /><line x1="274.5" y1="588.7" x2="274.5" y2="596.7" stroke="#000" stroke-width="2.2" /><line x1="290.78" y1="588.7" x2="290.78" y2="592.9" stroke="#000" stroke-width="2.2" /><line x1="307.06" y1="588.7" x2="307.06" y2="592.9" stroke="#000" stroke-width="2.2" /><line x1="323.34" y1="588.7" x2="323.34" y2="592.9" stroke="#000" stroke-width="2.2" /><line x1="339.62" y1="588.7" x2="339.62" y2="592.9" stroke="#000" stroke-width="2.2" /><line x1="355.9" y1="588.7" x2="355.9" y2="596.7" stroke="#000" stroke-width="2.2" /><line x1="372.18" y1="588.7" x2="372.18" y2="592.9" stroke="#000" stroke-width="2.2" /><line x1="388.46" y1="588.7" x2="388.46" y2="592.9" stroke="#000" stroke-width="2.2" /><line x1="404.74" y1="588.7" x2="404.74" y2="592.9" stroke="#000" stroke-width="2.2" /><line x1="421.02" y1="588.7" x2="421.02" y2="592.9" stroke="#000" stroke-width="2.2" /><line x1="437.3" y1="588.7" x2="437.3" y2="596.7" stroke="#000" stroke-width="2.2" /><line x1="453.58" y1="588.7" x2="453.58" y2="592.9" stroke="#000" stroke-width="2.2" /><line x1="469.86" y1="588.7" x2="469.86" y2="592.9" stroke="#000" stroke-width="2.2" /><line x1="486.14" y1="588.7" x2="486.14" y2="592.9" stroke="#000" stroke-width="2.2" /><line x1="502.42" y1="588.7" x2="502.42" y2="592.9" stroke="#000" stroke-width="2.2" /><line x1="518.7" y1="588.7" x2="518.7" y2="596.7" stroke="#000" stroke-width="2.2" /><line x1="534.98" y1="588.7" x2="534.98" y2="592.9" stroke="#000" stroke-width="2.2" /><line x1="551.26" y1="588.7" x2="551.26" y2="592.9" stroke="#000" stroke-width="2.2" /><line x1="567.54" y1="588.7" x2="567.54" y2="592.9" stroke="#000" stroke-width="2.2" /><line x1="583.82" y1="588.7" x2="583.82" y2="592.9" stroke="#000" stroke-width="2.2" /><line x1="600.1" y1="588.7" x2="600.1" y2="596.7" stroke="#000" stroke-width="2.2" /><line x1="616.38" y1="588.7" x2="616.38" y2="592.9" stroke="#000" stroke-width="2.2" /><line x1="632.66" y1="588.7" x2="632.66" y2="592.9" stroke="#000" stroke-width="2.2" /><line x1="648.94" y1="588.7" x2="648.94" y2="592.9" stroke="#000" stroke-width="2.2" /><line x1="665.22" y1="588.7" x2="665.22" y2="592.9" stroke="#000" stroke-width="2.2" /><line x1="681.5" y1="588.7" x2="681.5" y2="596.7" stroke="#000" stroke-width="2.2" /></g>
<g fill="#000"><circle cx="732.4" cy="59.3" r="7.0"/><g transform="translate(733,86.3) scale(1.0)"><circle cx="0" cy="-4.3" r="3.4"/><circle cx="-4.6" cy="2.6" r="3.4"/><circle cx="4.6" cy="2.6" r="3.4"/><circle cx="0" cy="0.8" r="2.2"/><path d="M-0.9,1 L0.9,1 L1.4,8.2 L-1.4,8.2 Z"/></g><path d="M734,104.8 L739.3,111.3 L734,117.8 L728.7,111.3 Z"/><path transform="translate(735,136.6) scale(7.2)" d="M0,1 L-0.86,0.1 C-1.15,-0.2 -1.05,-0.98 -0.5,-0.98 C-0.2,-0.98 -0.02,-0.75 0,-0.55 C0.02,-0.75 0.2,-0.98 0.5,-0.98 C1.05,-0.98 1.15,-0.2 0.86,0.1 Z"/><rect x="728.5" y="158.7" width="13.2" height="11.9"/><path d="M735.4,183.7 L741.05,192.6 L735.4,201.5 L729.75,192.6 Z" fill="#fff" stroke="#000" stroke-width="1.5"/></g>
<line x1="1043.3" y1="30.3" x2="1043.3" y2="573.8" stroke="#000" stroke-width="2.5" stroke-dasharray="14 13.35"/><line x1="1504.0" y1="30.3" x2="1504.0" y2="573.8" stroke="#000" stroke-width="2.5" stroke-dasharray="14 13.35"/><line x1="1532.2" y1="30.3" x2="1532.2" y2="573.8" stroke="#000" stroke-width="2.5" stroke-dasharray="14 13.35"/><line x1="1643.5" y1="30.3" x2="1643.5" y2="573.8" stroke="#000" stroke-width="2.5" stroke-dasharray="14 13.35"/><path d="M986,175.6 C987.07,175.47 989.52,174.28 992.4,174.8 C995.28,175.32 999.67,177.4 1003.3,178.7 C1006.93,180 1010.83,182 1014.2,182.6 C1017.57,183.2 1020.92,182.68 1023.5,182.3 C1026.08,181.92 1027.77,181.48 1029.7,180.3 C1031.63,179.12 1033.03,174.08 1035.1,175.2 C1037.17,176.32 1039.5,186.23 1042.1,187 C1044.7,187.77 1048.37,180.67 1050.7,179.8 C1053.03,178.93 1054.55,181.73 1056.1,181.8 C1057.65,181.87 1058.7,180.58 1060,180.2 C1061.3,179.82 1062.48,179.1 1063.9,179.5 C1065.32,179.9 1067.15,182.43 1068.5,182.6 C1069.85,182.77 1070.7,181.15 1072,180.5 C1073.3,179.85 1074.63,179.15 1076.3,178.7 C1077.97,178.25 1079.93,178.32 1082,177.8 C1084.07,177.28 1085,176.3 1088.7,175.6 C1092.4,174.9 1096.43,174.12 1104.2,173.6 C1111.97,173.08 1124.95,172.55 1135.3,172.5 C1145.65,172.45 1155.95,173.3 1166.3,173.3 C1176.65,173.3 1183.45,173 1197.4,172.5 C1211.35,172 1234.57,170.8 1250,170.3 C1265.43,169.8 1277.07,169.77 1290,169.5 C1302.93,169.23 1319.65,169.27 1327.6,168.7 C1335.55,168.13 1334.85,166.35 1337.7,166.1 C1340.55,165.85 1341.58,166.07 1344.7,167.2 C1347.82,168.33 1353.03,173.08 1356.4,172.9 C1359.77,172.72 1356.75,167.57 1364.9,166.1 C1373.05,164.63 1393.4,164.83 1405.3,164.1 C1417.2,163.37 1426.47,162.02 1436.3,161.7 C1446.13,161.38 1458.93,161.88 1464.3,162.2 C1469.67,162.52 1467.22,163.43 1468.5,163.6 C1469.78,163.77 1470.88,163 1472,163.2 C1473.12,163.4 1474.12,164.57 1475.2,164.8 C1476.28,165.03 1477.22,164.07 1478.5,164.6 C1479.78,165.13 1481.57,167.5 1482.9,168 C1484.23,168.5 1485.4,167.23 1486.5,167.6 C1487.6,167.97 1488.55,169.68 1489.5,170.2 C1490.45,170.72 1491.2,170.8 1492.2,170.7 C1493.2,170.6 1494.37,169.52 1495.5,169.6 C1496.63,169.68 1497.47,171.17 1499,171.2 C1500.53,171.23 1501.95,171.5 1504.7,169.8 C1507.45,168.1 1512.65,161.82 1515.5,161 C1518.35,160.18 1519.2,162.95 1521.8,164.9 C1524.4,166.85 1528.25,172.8 1531.1,172.7 C1533.95,172.6 1536.63,165.65 1538.9,164.3 C1541.17,162.95 1542.73,165.23 1544.7,164.6 C1546.67,163.97 1548.65,161.27 1550.7,160.5 C1552.75,159.73 1554.83,160.17 1557,160 C1559.17,159.83 1561.7,159.75 1563.7,159.5 C1565.7,159.25 1567.22,158.78 1569,158.5 C1570.78,158.22 1572.52,157.72 1574.4,157.8 C1576.28,157.88 1578.53,158.38 1580.3,159 C1582.07,159.62 1583.42,160.42 1585,161.5 C1586.58,162.58 1587.82,163.35 1589.8,165.5 C1591.78,167.65 1594.73,171.15 1596.9,174.4 C1599.07,177.65 1601.03,181.07 1602.8,185 C1604.57,188.93 1606.02,192.67 1607.5,198 C1608.98,203.33 1610.02,209.1 1611.7,217 C1613.38,224.9 1615.65,236.33 1617.6,245.4 C1619.55,254.47 1621.48,263.7 1623.4,271.4 C1625.32,279.1 1626.93,285.33 1629.1,291.6 C1631.27,297.87 1634.47,303.7 1636.4,309 C1638.33,314.3 1639.4,319.15 1640.7,323.4 C1642,327.65 1642.75,333.78 1644.2,334.5 C1645.65,335.22 1647.48,330.27 1649.4,327.7 C1651.32,325.13 1654.02,322.47 1655.7,319.1 C1657.38,315.73 1658.15,314.97 1659.5,307.5 C1660.85,300.03 1662.35,286.58 1663.8,274.3 C1665.25,262.02 1666.75,245.37 1668.2,233.8 C1669.65,222.23 1670.82,213.57 1672.5,204.9 C1674.18,196.23 1676.38,188.07 1678.3,181.8 C1680.22,175.53 1681.83,170.67 1684,167.3 C1686.17,163.93 1688.97,162.57 1691.3,161.6 C1693.63,160.63 1695.83,161.27 1698,161.5 C1700.17,161.73 1702.53,161.07 1704.3,163 C1706.07,164.93 1707.17,167.08 1708.6,173.1 C1710.03,179.12 1711.45,187.05 1712.9,199.1 C1714.35,211.15 1715.85,226.62 1717.3,245.4 C1718.75,264.18 1720.72,298.2 1721.6,311.8 C1722.48,325.4 1722.43,324.47 1722.6,327" fill="none" stroke="#000" stroke-width="3.3" stroke-linejoin="round"/><path d="M986.2,388.7 C987.5,388.65 991.15,387.88 994,388.4 C996.85,388.92 999.93,390.63 1003.3,391.8 C1006.67,392.97 1011.35,394.8 1014.2,395.4 C1017.05,396 1018.08,395.92 1020.4,395.4 C1022.72,394.88 1025.52,393.08 1028.1,392.3 C1030.68,391.52 1033.57,389.75 1035.9,390.7 C1038.23,391.65 1040.28,397.42 1042.1,398 C1043.92,398.58 1045.12,395.15 1046.8,394.2 C1048.48,393.25 1050.4,392 1052.2,392.3 C1054,392.6 1054.1,395.55 1057.6,396 C1061.1,396.45 1068.02,395.7 1073.2,395 C1078.38,394.3 1082.23,392.52 1088.7,391.8 C1095.17,391.08 1104.23,390.7 1112,390.7 C1119.77,390.7 1127.53,391.17 1135.3,391.8 C1143.07,392.43 1148.25,394.23 1158.6,394.5 C1168.95,394.77 1188.35,392.98 1197.4,393.4 C1206.45,393.82 1207.73,396.67 1212.9,397 C1218.07,397.33 1222.22,396.65 1228.4,395.4 C1234.58,394.15 1238.87,390.92 1250,389.5 C1261.13,388.08 1281.53,387.78 1295.2,386.9 C1308.87,386.02 1324.63,384.52 1332,384.2 C1339.37,383.88 1337.25,384.03 1339.4,385 C1341.55,385.97 1342.92,390.6 1344.9,390 C1346.88,389.4 1349.45,382.43 1351.3,381.4 C1353.15,380.37 1354.15,383.8 1356,383.8 C1357.85,383.8 1354.13,381.95 1362.4,381.4 C1370.67,380.85 1390.73,381.12 1405.6,380.5 C1420.47,379.88 1441.63,378.17 1451.6,377.7 C1461.57,377.23 1460.8,376.62 1465.4,377.7 C1470,378.78 1475.37,383.12 1479.2,384.2 C1483.03,385.28 1485.33,383.43 1488.4,384.2 C1491.47,384.97 1494.83,387.88 1497.6,388.8 C1500.37,389.72 1502.23,390.33 1505,389.7 C1507.77,389.07 1510.98,383.32 1514.2,385 C1517.42,386.68 1521.23,397.63 1524.3,399.8 C1527.37,401.97 1528.25,400.08 1532.6,398 C1536.95,395.92 1545.72,389.42 1550.4,387.3 C1555.08,385.18 1558.12,386.27 1560.7,385.3 C1563.28,384.33 1562.43,381.23 1565.9,381.5 C1569.37,381.77 1577.17,384.37 1581.5,386.9 C1585.83,389.43 1588.45,393.58 1591.9,396.7 C1595.35,399.82 1599.1,401.28 1602.2,405.6 C1605.3,409.92 1607.73,415.27 1610.5,422.6 C1613.27,429.93 1616.03,443.38 1618.8,449.6 C1621.57,455.82 1624.33,457.13 1627.1,459.9 C1629.87,462.67 1633.05,464.12 1635.4,466.2 C1637.75,468.28 1639.12,474.48 1641.2,472.4 C1643.28,470.32 1646.1,457.33 1647.9,453.7 C1649.7,450.07 1650.28,451.28 1652,450.6 C1653.72,449.92 1656.12,453.23 1658.2,449.6 C1660.28,445.97 1662.07,438.48 1664.5,428.8 C1666.93,419.12 1669.7,401.18 1672.8,391.5 C1675.9,381.82 1679.65,372.95 1683.1,370.7 C1686.55,368.45 1689.7,376.27 1693.5,378 C1697.3,379.73 1702.78,378.85 1705.9,381.1 C1709.02,383.35 1709.43,385.62 1712.2,391.5 C1714.97,397.38 1720.78,412.25 1722.5,416.4" fill="none" stroke="#cc1020" stroke-width="3.4" stroke-linejoin="round"/><rect x="986.0" y="30.3" width="736.7" height="543.5" fill="none" stroke="#000" stroke-width="2.5"/><line x1="986" y1="573.8" x2="986" y2="582.8" stroke="#000" stroke-width="2.2" /><line x1="1041.03" y1="573.8" x2="1041.03" y2="578.8" stroke="#000" stroke-width="2.2" /><line x1="1096.05" y1="573.8" x2="1096.05" y2="582.8" stroke="#000" stroke-width="2.2" /><line x1="1151.07" y1="573.8" x2="1151.07" y2="578.8" stroke="#000" stroke-width="2.2" /><line x1="1206.1" y1="573.8" x2="1206.1" y2="582.8" stroke="#000" stroke-width="2.2" /><line x1="1261.12" y1="573.8" x2="1261.12" y2="578.8" stroke="#000" stroke-width="2.2" /><line x1="1316.15" y1="573.8" x2="1316.15" y2="582.8" stroke="#000" stroke-width="2.2" /><line x1="1371.17" y1="573.8" x2="1371.17" y2="578.8" stroke="#000" stroke-width="2.2" /><line x1="1426.2" y1="573.8" x2="1426.2" y2="582.8" stroke="#000" stroke-width="2.2" /><line x1="1481.22" y1="573.8" x2="1481.22" y2="578.8" stroke="#000" stroke-width="2.2" /><line x1="1536.25" y1="573.8" x2="1536.25" y2="582.8" stroke="#000" stroke-width="2.2" /><line x1="1591.27" y1="573.8" x2="1591.27" y2="578.8" stroke="#000" stroke-width="2.2" /><line x1="1646.3" y1="573.8" x2="1646.3" y2="582.8" stroke="#000" stroke-width="2.2" /><line x1="1701.32" y1="573.8" x2="1701.32" y2="578.8" stroke="#000" stroke-width="2.2" /><g transform="translate(20.76,0) scale(1.0600,1) translate(-22.00,0)"><g id="lt10"><text x="30.3" y="617.3" text-anchor="middle" class="b" font-size="19.4" fill="#000">10</text></g></g><g transform="translate(102.16,0) scale(1.0600,1) translate(-103.00,0)"><g id="lt20"><text x="111.7" y="617.3" text-anchor="middle" class="b" font-size="19.4" fill="#000">20</text></g></g><g transform="translate(183.56,0) scale(1.0600,1) translate(-184.00,0)"><g id="lt30"><text x="193.10000000000002" y="617.3" text-anchor="middle" class="b" font-size="19.4" fill="#000">30</text></g></g><g transform="translate(264.43,0) scale(1.0600,1) translate(-265.00,0)"><g id="lt40"><text x="274.5" y="617.3" text-anchor="middle" class="b" font-size="19.4" fill="#000">40</text></g></g><g transform="translate(346.36,0) scale(1.0600,1) translate(-347.00,0)"><g id="lt50"><text x="355.90000000000003" y="617.3" text-anchor="middle" class="b" font-size="19.4" fill="#000">50</text></g></g><g transform="translate(427.23,0) scale(1.0600,1) translate(-428.00,0)"><g id="lt60"><text x="437.3" y="617.3" text-anchor="middle" class="b" font-size="19.4" fill="#000">60</text></g></g><g transform="translate(509.16,0) scale(1.0600,1) translate(-510.00,0)"><g id="lt70"><text x="518.7" y="617.3" text-anchor="middle" class="b" font-size="19.4" fill="#000">70</text></g></g><g transform="translate(590.56,0) scale(1.0600,1) translate(-591.00,0)"><g id="lt80"><text x="600.1" y="617.3" text-anchor="middle" class="b" font-size="19.4" fill="#000">80</text></g></g><g transform="translate(671.43,0) scale(1.0600,1) translate(-672.00,0)"><g id="lt90"><text x="681.5" y="617.3" text-anchor="middle" class="b" font-size="19.4" fill="#000">90</text></g></g><g transform="translate(338.90,0) scale(0.9620,1) translate(-340.00,0)"><g id="theta"><text x="338.9" y="654.3" class="b" font-size="22" fill="#000">2θ (°)</text></g></g><g transform="translate(25.50,0) scale(1.0458,1) translate(-28.00,0)"><g id="a"><text x="25.5" y="65.6" class="b" font-size="54.2" fill="#000">(a)</text></g></g><g transform="translate(752.30,0) scale(0.9857,1) translate(-753.00,0)"><g id="ddsL"><text x="752.3" y="378.3" class="b" font-size="29" fill="#1414d0">DDS</text></g></g><g transform="translate(653.70,0) scale(0.9768,1) translate(-654.00,0)"><g id="maoL"><text x="653.7" y="509.2" class="b" font-size="29" fill="#d8101c">MAO</text></g></g><g transform="translate(746.60,0) scale(0.9889,1) translate(-747.00,0)"><g id="lg1"><text x="747" y="65.8" class="b" font-size="18.8" fill="#000">Mg</text></g></g><g transform="translate(747.30,0) scale(1.0244,1) translate(-747.00,0)"><g id="lg2"><text x="747" y="92.3" class="b" font-size="18.8" fill="#000">MgO</text></g></g><g transform="translate(747.60,0) scale(1.0341,1) translate(-747.00,0)"><g id="lg3"><text x="747" y="117.2" class="b" font-size="18.8" fill="#000">Mg<tspan baseline-shift="-5.5" font-size="13">3</tspan>(PO<tspan baseline-shift="-5.5" font-size="13">4</tspan>)<tspan baseline-shift="-5.5" font-size="13">2</tspan></text></g></g><g transform="translate(748.60,0) scale(1.0412,1) translate(-748.00,0)"><g id="lg4"><text x="747" y="142.6" class="b" font-size="18.8" fill="#000">Ca<tspan baseline-shift="-5.5" font-size="13">3</tspan>(PO<tspan baseline-shift="-5.5" font-size="13">4</tspan>)<tspan baseline-shift="-5.5" font-size="13">2</tspan></text></g></g><g transform="translate(748.20,0) scale(1.0364,1) translate(-747.00,0)"><g id="lg5"><text x="747" y="171.2" class="b" font-size="18.8" fill="#000">Mg(H<tspan baseline-shift="-5.5" font-size="13">2</tspan>PO<tspan baseline-shift="-5.5" font-size="13">4</tspan>)<tspan baseline-shift="-5.5" font-size="13">2</tspan></text></g></g><g transform="translate(747.50,0) scale(1.0360,1) translate(-747.00,0)"><g id="lg6"><text x="747" y="198.0" class="b" font-size="18.8" fill="#000">Mg<tspan baseline-shift="-5.5" font-size="13">3</tspan>(PO<tspan baseline-shift="-5.5" font-size="13">4</tspan>)<tspan baseline-shift="-5.5" font-size="13">2</tspan>·4H<tspan baseline-shift="-5.5" font-size="13">2</tspan>O</text></g></g><g transform="translate(958.97,0) scale(1.0200,1) translate(-959.00,0)"><g id="rt4000"><text x="986.0" y="613.1" text-anchor="middle" class="b" font-size="26.9" fill="#000">4000</text></g></g><g transform="translate(1069.53,0) scale(1.0200,1) translate(-1070.00,0)"><g id="rt3500"><text x="1096.05" y="613.1" text-anchor="middle" class="b" font-size="26.9" fill="#000">3500</text></g></g><g transform="translate(1179.58,0) scale(1.0200,1) translate(-1180.00,0)"><g id="rt3000"><text x="1206.1" y="613.1" text-anchor="middle" class="b" font-size="26.9" fill="#000">3000</text></g></g><g transform="translate(1289.63,0) scale(1.0200,1) translate(-1290.00,0)"><g id="rt2500"><text x="1316.1499999999999" y="613.1" text-anchor="middle" class="b" font-size="26.9" fill="#000">2500</text></g></g><g transform="translate(1399.68,0) scale(1.0200,1) translate(-1400.00,0)"><g id="rt2000"><text x="1426.1999999999998" y="613.1" text-anchor="middle" class="b" font-size="26.9" fill="#000">2000</text></g></g><g transform="translate(1510.24,0) scale(1.0200,1) translate(-1511.00,0)"><g id="rt1500"><text x="1536.2499999999998" y="613.1" text-anchor="middle" class="b" font-size="26.9" fill="#000">1500</text></g></g><g transform="translate(1620.29,0) scale(1.0200,1) translate(-1621.00,0)"><g id="rt1000"><text x="1646.2999999999997" y="613.1" text-anchor="middle" class="b" font-size="26.9" fill="#000">1000</text></g></g><g transform="translate(1224.40,0) scale(1.0601,1) translate(-1225.00,0)"><g id="wav"><text x="1224.4" y="657.5" class="b" font-size="31.9" fill="#000">Wavenumber (cm<tspan baseline-shift="13" font-size="20">−1</tspan>)</text></g></g><g transform="translate(1245.00,0) scale(1.0583,1) translate(-1246.00,0)"><g id="maoR"><text x="1245" y="151.9" class="r" font-size="26.4" fill="#000">MAO</text></g></g><g transform="translate(1247.40,0) scale(1.0451,1) translate(-1248.00,0)"><g id="ddsR"><text x="1247.4" y="375.0" class="r" font-size="26.4" fill="#000">DDS</text></g></g><g transform="translate(905.40,0) scale(1.0393,1) translate(-907.00,0)"><g id="b"><text x="905.4" y="58.0" class="b" font-size="52.5" fill="#000">(b)</text></g></g><g transform="translate(-0.20,260.70) scale(1,0.9923) translate(0,-260.00)"><g id="v3737"><text transform="translate(1062.0,280.0) rotate(-90)" text-anchor="middle" dominant-baseline="central" class="r" font-size="20" fill="#000">3737</text></g></g><g transform="translate(-0.20,234.00) scale(1,0.9718) translate(0,-233.00)"><g id="v1647"><text transform="translate(1484.8,253.0) rotate(-90)" text-anchor="middle" dominant-baseline="central" class="b" font-size="20" fill="#000" stroke="#000" stroke-width="0.45">1647</text></g></g><g transform="translate(-0.50,234.00) scale(1,0.9564) translate(0,-233.00)"><g id="v1515"><text transform="translate(1553.5,252.7) rotate(-90)" text-anchor="middle" dominant-baseline="central" class="b" font-size="20" fill="#000" stroke="#000" stroke-width="0.45">1515</text></g></g><g transform="translate(0.00,334.00) scale(1,0.9821) translate(0,-333.00)"><g id="v1004"><text transform="translate(1621.0,353.1) rotate(-90)" text-anchor="middle" dominant-baseline="central" class="b" font-size="20" fill="#000" stroke="#000" stroke-width="0.45">1004</text></g></g><rect x="960" y="661" width="779" height="14" fill="#fff"/>
</svg>
</body></html>
